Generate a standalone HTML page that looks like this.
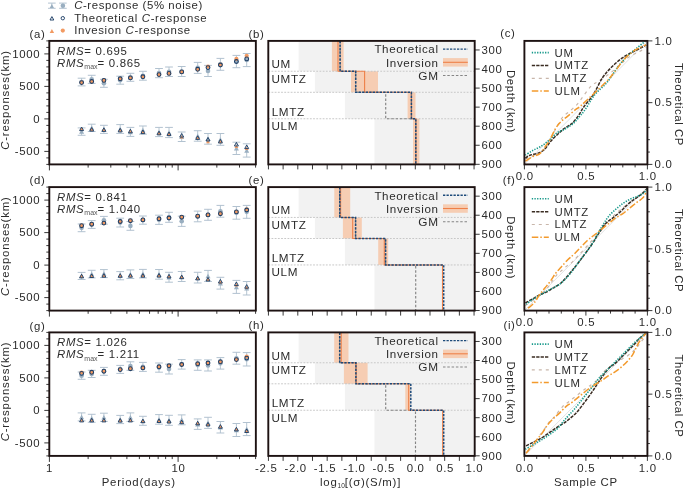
<!DOCTYPE html>
<html><head><meta charset="utf-8"><style>
html,body{margin:0;padding:0;background:#fff;overflow:hidden;width:685px;height:490px;}
svg{display:block;font-family:"Liberation Sans", sans-serif;will-change:transform;}
</style></head><body>
<svg width="685" height="490" viewBox="0 0 685 490">
<rect width="685" height="490" fill="#fff"/>
<line x1="46.3" y1="164.4" x2="49.3" y2="164.4" stroke="#3a3a3a" stroke-width="1" />
<line x1="46.3" y1="157.9" x2="49.3" y2="157.9" stroke="#3a3a3a" stroke-width="1" />
<line x1="44.3" y1="151.4" x2="49.3" y2="151.4" stroke="#3a3a3a" stroke-width="1" />
<line x1="46.3" y1="144.9" x2="49.3" y2="144.9" stroke="#3a3a3a" stroke-width="1" />
<line x1="46.3" y1="138.4" x2="49.3" y2="138.4" stroke="#3a3a3a" stroke-width="1" />
<line x1="46.3" y1="131.9" x2="49.3" y2="131.9" stroke="#3a3a3a" stroke-width="1" />
<line x1="46.3" y1="125.4" x2="49.3" y2="125.4" stroke="#3a3a3a" stroke-width="1" />
<line x1="44.3" y1="118.9" x2="49.3" y2="118.9" stroke="#3a3a3a" stroke-width="1" />
<line x1="46.3" y1="112.4" x2="49.3" y2="112.4" stroke="#3a3a3a" stroke-width="1" />
<line x1="46.3" y1="105.9" x2="49.3" y2="105.9" stroke="#3a3a3a" stroke-width="1" />
<line x1="46.3" y1="99.4" x2="49.3" y2="99.4" stroke="#3a3a3a" stroke-width="1" />
<line x1="46.3" y1="92.9" x2="49.3" y2="92.9" stroke="#3a3a3a" stroke-width="1" />
<line x1="44.3" y1="86.4" x2="49.3" y2="86.4" stroke="#3a3a3a" stroke-width="1" />
<line x1="46.3" y1="79.9" x2="49.3" y2="79.9" stroke="#3a3a3a" stroke-width="1" />
<line x1="46.3" y1="73.4" x2="49.3" y2="73.4" stroke="#3a3a3a" stroke-width="1" />
<line x1="46.3" y1="66.9" x2="49.3" y2="66.9" stroke="#3a3a3a" stroke-width="1" />
<line x1="46.3" y1="60.4" x2="49.3" y2="60.4" stroke="#3a3a3a" stroke-width="1" />
<line x1="44.3" y1="53.9" x2="49.3" y2="53.9" stroke="#3a3a3a" stroke-width="1" />
<line x1="46.3" y1="47.4" x2="49.3" y2="47.4" stroke="#3a3a3a" stroke-width="1" />
<line x1="46.3" y1="40.9" x2="49.3" y2="40.9" stroke="#3a3a3a" stroke-width="1" />
<text x="40.2" y="57.7" text-anchor="end" font-size="11.4" letter-spacing="0.68" fill="#2b2b2b" >1000</text>
<text x="40.2" y="90.2" text-anchor="end" font-size="11.4" letter-spacing="0.68" fill="#2b2b2b" >500</text>
<text x="40.2" y="122.7" text-anchor="end" font-size="11.4" letter-spacing="0.68" fill="#2b2b2b" >0</text>
<text x="40.2" y="155.2" text-anchor="end" font-size="11.4" letter-spacing="0.68" fill="#2b2b2b" >-500</text>
<line x1="49.4" y1="164.4" x2="49.4" y2="170.4" stroke="#3a3a3a" stroke-width="1" />
<line x1="88.14" y1="164.4" x2="88.14" y2="167.6" stroke="#3a3a3a" stroke-width="1" />
<line x1="110.81" y1="164.4" x2="110.81" y2="167.6" stroke="#3a3a3a" stroke-width="1" />
<line x1="126.89" y1="164.4" x2="126.89" y2="167.6" stroke="#3a3a3a" stroke-width="1" />
<line x1="139.36" y1="164.4" x2="139.36" y2="167.6" stroke="#3a3a3a" stroke-width="1" />
<line x1="149.55" y1="164.4" x2="149.55" y2="167.6" stroke="#3a3a3a" stroke-width="1" />
<line x1="158.16" y1="164.4" x2="158.16" y2="167.6" stroke="#3a3a3a" stroke-width="1" />
<line x1="165.63" y1="164.4" x2="165.63" y2="167.6" stroke="#3a3a3a" stroke-width="1" />
<line x1="172.21" y1="164.4" x2="172.21" y2="167.6" stroke="#3a3a3a" stroke-width="1" />
<line x1="178.1" y1="164.4" x2="178.1" y2="170.4" stroke="#3a3a3a" stroke-width="1" />
<line x1="216.84" y1="164.4" x2="216.84" y2="167.6" stroke="#3a3a3a" stroke-width="1" />
<line x1="239.51" y1="164.4" x2="239.51" y2="167.6" stroke="#3a3a3a" stroke-width="1" />
<line x1="255.59" y1="164.4" x2="255.59" y2="167.6" stroke="#3a3a3a" stroke-width="1" />
<line x1="81.6" y1="78.2" x2="81.6" y2="85.9" stroke="#aebfcd" stroke-width="0.9" />
<line x1="77.7" y1="78.2" x2="85.5" y2="78.2" stroke="#aebfcd" stroke-width="0.95" />
<line x1="77.7" y1="85.9" x2="85.5" y2="85.9" stroke="#aebfcd" stroke-width="0.95" />
<circle cx="81.6" cy="82.05" r="2.3" fill="#99aec0"/>
<line x1="81.6" y1="127.9" x2="81.6" y2="135.3" stroke="#aebfcd" stroke-width="0.9" />
<line x1="77.7" y1="127.9" x2="85.5" y2="127.9" stroke="#aebfcd" stroke-width="0.95" />
<line x1="77.7" y1="135.3" x2="85.5" y2="135.3" stroke="#aebfcd" stroke-width="0.95" />
<polygon points="79.1,133.85 84.1,133.85 81.6,129.35" fill="#99aec0"/>
<line x1="91.7" y1="75.3" x2="91.7" y2="83.4" stroke="#aebfcd" stroke-width="0.9" />
<line x1="87.8" y1="75.3" x2="95.6" y2="75.3" stroke="#aebfcd" stroke-width="0.95" />
<line x1="87.8" y1="83.4" x2="95.6" y2="83.4" stroke="#aebfcd" stroke-width="0.95" />
<circle cx="91.7" cy="79.35" r="2.3" fill="#99aec0"/>
<line x1="91.7" y1="124.2" x2="91.7" y2="131.5" stroke="#aebfcd" stroke-width="0.9" />
<line x1="87.8" y1="124.2" x2="95.6" y2="124.2" stroke="#aebfcd" stroke-width="0.95" />
<line x1="87.8" y1="131.5" x2="95.6" y2="131.5" stroke="#aebfcd" stroke-width="0.95" />
<polygon points="89.2,130.1 94.2,130.1 91.7,125.6" fill="#99aec0"/>
<line x1="103.9" y1="79.3" x2="103.9" y2="87.3" stroke="#aebfcd" stroke-width="0.9" />
<line x1="100" y1="79.3" x2="107.8" y2="79.3" stroke="#aebfcd" stroke-width="0.95" />
<line x1="100" y1="87.3" x2="107.8" y2="87.3" stroke="#aebfcd" stroke-width="0.95" />
<circle cx="103.9" cy="83.3" r="2.3" fill="#99aec0"/>
<line x1="103.9" y1="125.3" x2="103.9" y2="133.4" stroke="#aebfcd" stroke-width="0.9" />
<line x1="100" y1="125.3" x2="107.8" y2="125.3" stroke="#aebfcd" stroke-width="0.95" />
<line x1="100" y1="133.4" x2="107.8" y2="133.4" stroke="#aebfcd" stroke-width="0.95" />
<polygon points="101.4,131.6 106.4,131.6 103.9,127.1" fill="#99aec0"/>
<line x1="120.2" y1="76.2" x2="120.2" y2="84.2" stroke="#aebfcd" stroke-width="0.9" />
<line x1="116.3" y1="76.2" x2="124.1" y2="76.2" stroke="#aebfcd" stroke-width="0.95" />
<line x1="116.3" y1="84.2" x2="124.1" y2="84.2" stroke="#aebfcd" stroke-width="0.95" />
<circle cx="120.2" cy="80.2" r="2.3" fill="#99aec0"/>
<line x1="120.2" y1="124.6" x2="120.2" y2="133.4" stroke="#aebfcd" stroke-width="0.9" />
<line x1="116.3" y1="124.6" x2="124.1" y2="124.6" stroke="#aebfcd" stroke-width="0.95" />
<line x1="116.3" y1="133.4" x2="124.1" y2="133.4" stroke="#aebfcd" stroke-width="0.95" />
<polygon points="117.7,131.25 122.7,131.25 120.2,126.75" fill="#99aec0"/>
<line x1="130.4" y1="73.3" x2="130.4" y2="81.3" stroke="#aebfcd" stroke-width="0.9" />
<line x1="126.5" y1="73.3" x2="134.3" y2="73.3" stroke="#aebfcd" stroke-width="0.95" />
<line x1="126.5" y1="81.3" x2="134.3" y2="81.3" stroke="#aebfcd" stroke-width="0.95" />
<circle cx="130.4" cy="77.3" r="2.3" fill="#99aec0"/>
<line x1="130.4" y1="127.4" x2="130.4" y2="136.4" stroke="#aebfcd" stroke-width="0.9" />
<line x1="126.5" y1="127.4" x2="134.3" y2="127.4" stroke="#aebfcd" stroke-width="0.95" />
<line x1="126.5" y1="136.4" x2="134.3" y2="136.4" stroke="#aebfcd" stroke-width="0.95" />
<polygon points="127.9,134.15 132.9,134.15 130.4,129.65" fill="#99aec0"/>
<line x1="142.9" y1="71.3" x2="142.9" y2="80.2" stroke="#aebfcd" stroke-width="0.9" />
<line x1="139" y1="71.3" x2="146.8" y2="71.3" stroke="#aebfcd" stroke-width="0.95" />
<line x1="139" y1="80.2" x2="146.8" y2="80.2" stroke="#aebfcd" stroke-width="0.95" />
<circle cx="142.9" cy="75.75" r="2.3" fill="#99aec0"/>
<line x1="142.9" y1="126" x2="142.9" y2="134.2" stroke="#aebfcd" stroke-width="0.9" />
<line x1="139" y1="126" x2="146.8" y2="126" stroke="#aebfcd" stroke-width="0.95" />
<line x1="139" y1="134.2" x2="146.8" y2="134.2" stroke="#aebfcd" stroke-width="0.95" />
<polygon points="140.4,132.35 145.4,132.35 142.9,127.85" fill="#99aec0"/>
<line x1="159" y1="68.5" x2="159" y2="77.7" stroke="#aebfcd" stroke-width="0.9" />
<line x1="155.1" y1="68.5" x2="162.9" y2="68.5" stroke="#aebfcd" stroke-width="0.95" />
<line x1="155.1" y1="77.7" x2="162.9" y2="77.7" stroke="#aebfcd" stroke-width="0.95" />
<circle cx="159" cy="73.1" r="2.3" fill="#99aec0"/>
<line x1="159" y1="127.4" x2="159" y2="136.6" stroke="#aebfcd" stroke-width="0.9" />
<line x1="155.1" y1="127.4" x2="162.9" y2="127.4" stroke="#aebfcd" stroke-width="0.95" />
<line x1="155.1" y1="136.6" x2="162.9" y2="136.6" stroke="#aebfcd" stroke-width="0.95" />
<polygon points="156.5,134.25 161.5,134.25 159,129.75" fill="#99aec0"/>
<line x1="169" y1="67" x2="169" y2="76.5" stroke="#aebfcd" stroke-width="0.9" />
<line x1="165.1" y1="67" x2="172.9" y2="67" stroke="#aebfcd" stroke-width="0.95" />
<line x1="165.1" y1="76.5" x2="172.9" y2="76.5" stroke="#aebfcd" stroke-width="0.95" />
<circle cx="169" cy="71.75" r="2.3" fill="#99aec0"/>
<line x1="169" y1="127.4" x2="169" y2="137.6" stroke="#aebfcd" stroke-width="0.9" />
<line x1="165.1" y1="127.4" x2="172.9" y2="127.4" stroke="#aebfcd" stroke-width="0.95" />
<line x1="165.1" y1="137.6" x2="172.9" y2="137.6" stroke="#aebfcd" stroke-width="0.95" />
<polygon points="166.5,134.75 171.5,134.75 169,130.25" fill="#99aec0"/>
<line x1="181.7" y1="66.5" x2="181.7" y2="76.5" stroke="#aebfcd" stroke-width="0.9" />
<line x1="177.8" y1="66.5" x2="185.6" y2="66.5" stroke="#aebfcd" stroke-width="0.95" />
<line x1="177.8" y1="76.5" x2="185.6" y2="76.5" stroke="#aebfcd" stroke-width="0.95" />
<circle cx="181.7" cy="71.5" r="2.3" fill="#99aec0"/>
<line x1="181.7" y1="132" x2="181.7" y2="141.5" stroke="#aebfcd" stroke-width="0.9" />
<line x1="177.8" y1="132" x2="185.6" y2="132" stroke="#aebfcd" stroke-width="0.95" />
<line x1="177.8" y1="141.5" x2="185.6" y2="141.5" stroke="#aebfcd" stroke-width="0.95" />
<polygon points="179.2,139 184.2,139 181.7,134.5" fill="#99aec0"/>
<line x1="197.7" y1="62.4" x2="197.7" y2="73.4" stroke="#aebfcd" stroke-width="0.9" />
<line x1="193.8" y1="62.4" x2="201.6" y2="62.4" stroke="#aebfcd" stroke-width="0.95" />
<line x1="193.8" y1="73.4" x2="201.6" y2="73.4" stroke="#aebfcd" stroke-width="0.95" />
<circle cx="197.7" cy="67.9" r="2.3" fill="#99aec0"/>
<line x1="197.7" y1="130.7" x2="197.7" y2="141.2" stroke="#aebfcd" stroke-width="0.9" />
<line x1="193.8" y1="130.7" x2="201.6" y2="130.7" stroke="#aebfcd" stroke-width="0.95" />
<line x1="193.8" y1="141.2" x2="201.6" y2="141.2" stroke="#aebfcd" stroke-width="0.95" />
<polygon points="195.2,138.2 200.2,138.2 197.7,133.7" fill="#99aec0"/>
<line x1="208" y1="65.4" x2="208" y2="76.5" stroke="#aebfcd" stroke-width="0.9" />
<line x1="204.1" y1="65.4" x2="211.9" y2="65.4" stroke="#aebfcd" stroke-width="0.95" />
<line x1="204.1" y1="76.5" x2="211.9" y2="76.5" stroke="#aebfcd" stroke-width="0.95" />
<circle cx="208" cy="70.95" r="2.3" fill="#99aec0"/>
<line x1="208" y1="133.5" x2="208" y2="144.2" stroke="#aebfcd" stroke-width="0.9" />
<line x1="204.1" y1="133.5" x2="211.9" y2="133.5" stroke="#aebfcd" stroke-width="0.95" />
<line x1="204.1" y1="144.2" x2="211.9" y2="144.2" stroke="#aebfcd" stroke-width="0.95" />
<polygon points="205.5,141.1 210.5,141.1 208,136.6" fill="#99aec0"/>
<line x1="220.4" y1="58.4" x2="220.4" y2="70.3" stroke="#aebfcd" stroke-width="0.9" />
<line x1="216.5" y1="58.4" x2="224.3" y2="58.4" stroke="#aebfcd" stroke-width="0.95" />
<line x1="216.5" y1="70.3" x2="224.3" y2="70.3" stroke="#aebfcd" stroke-width="0.95" />
<circle cx="220.4" cy="64.35" r="2.3" fill="#99aec0"/>
<line x1="220.4" y1="133.5" x2="220.4" y2="145.3" stroke="#aebfcd" stroke-width="0.9" />
<line x1="216.5" y1="133.5" x2="224.3" y2="133.5" stroke="#aebfcd" stroke-width="0.95" />
<line x1="216.5" y1="145.3" x2="224.3" y2="145.3" stroke="#aebfcd" stroke-width="0.95" />
<polygon points="217.9,141.65 222.9,141.65 220.4,137.15" fill="#99aec0"/>
<line x1="236.4" y1="55.4" x2="236.4" y2="67.7" stroke="#aebfcd" stroke-width="0.9" />
<line x1="232.5" y1="55.4" x2="240.3" y2="55.4" stroke="#aebfcd" stroke-width="0.95" />
<line x1="232.5" y1="67.7" x2="240.3" y2="67.7" stroke="#aebfcd" stroke-width="0.95" />
<circle cx="236.4" cy="61.55" r="2.3" fill="#99aec0"/>
<line x1="236.4" y1="142.2" x2="236.4" y2="154.5" stroke="#aebfcd" stroke-width="0.9" />
<line x1="232.5" y1="142.2" x2="240.3" y2="142.2" stroke="#aebfcd" stroke-width="0.95" />
<line x1="232.5" y1="154.5" x2="240.3" y2="154.5" stroke="#aebfcd" stroke-width="0.95" />
<polygon points="233.9,150.6 238.9,150.6 236.4,146.1" fill="#99aec0"/>
<line x1="246.7" y1="53.5" x2="246.7" y2="66.6" stroke="#aebfcd" stroke-width="0.9" />
<line x1="242.8" y1="53.5" x2="250.6" y2="53.5" stroke="#aebfcd" stroke-width="0.95" />
<line x1="242.8" y1="66.6" x2="250.6" y2="66.6" stroke="#aebfcd" stroke-width="0.95" />
<circle cx="246.7" cy="60.05" r="2.3" fill="#99aec0"/>
<line x1="246.7" y1="143.8" x2="246.7" y2="157.1" stroke="#aebfcd" stroke-width="0.9" />
<line x1="242.8" y1="143.8" x2="250.6" y2="143.8" stroke="#aebfcd" stroke-width="0.95" />
<line x1="242.8" y1="157.1" x2="250.6" y2="157.1" stroke="#aebfcd" stroke-width="0.95" />
<polygon points="244.2,152.7 249.2,152.7 246.7,148.2" fill="#99aec0"/>
<circle cx="81.6" cy="82.6" r="2.1" fill="#f29a62"/>
<circle cx="81.6" cy="82.6" r="1.9" fill="none" stroke="#1f3f66" stroke-width="1.1"/>
<polygon points="79.7,130.51 83.5,130.51 81.6,127.09" fill="#f29a62"/>
<polygon points="79.6,130.6 83.6,130.6 81.6,127" fill="none" stroke="#1f3f66" stroke-width="0.95" stroke-linejoin="round"/>
<circle cx="91.7" cy="81.5" r="2.1" fill="#f29a62"/>
<circle cx="91.7" cy="81.5" r="1.9" fill="none" stroke="#1f3f66" stroke-width="1.1"/>
<polygon points="89.8,131.01 93.6,131.01 91.7,127.59" fill="#f29a62"/>
<polygon points="89.7,131.1 93.7,131.1 91.7,127.5" fill="none" stroke="#1f3f66" stroke-width="0.95" stroke-linejoin="round"/>
<circle cx="103.9" cy="80.4" r="2.1" fill="#f29a62"/>
<circle cx="103.9" cy="80.4" r="1.9" fill="none" stroke="#1f3f66" stroke-width="1.1"/>
<polygon points="102,131.31 105.8,131.31 103.9,127.89" fill="#f29a62"/>
<polygon points="101.9,131.4 105.9,131.4 103.9,127.8" fill="none" stroke="#1f3f66" stroke-width="0.95" stroke-linejoin="round"/>
<circle cx="120.2" cy="78.8" r="2.1" fill="#f29a62"/>
<circle cx="120.2" cy="78.8" r="1.9" fill="none" stroke="#1f3f66" stroke-width="1.1"/>
<polygon points="118.3,131.81 122.1,131.81 120.2,128.39" fill="#f29a62"/>
<polygon points="118.2,131.9 122.2,131.9 120.2,128.3" fill="none" stroke="#1f3f66" stroke-width="0.95" stroke-linejoin="round"/>
<circle cx="130.4" cy="77.9" r="2.1" fill="#f29a62"/>
<circle cx="130.4" cy="77.9" r="1.9" fill="none" stroke="#1f3f66" stroke-width="1.1"/>
<polygon points="128.5,132.71 132.3,132.71 130.4,129.29" fill="#f29a62"/>
<polygon points="128.4,132.8 132.4,132.8 130.4,129.2" fill="none" stroke="#1f3f66" stroke-width="0.95" stroke-linejoin="round"/>
<circle cx="142.9" cy="76.8" r="2.1" fill="#f29a62"/>
<circle cx="142.9" cy="76.8" r="1.9" fill="none" stroke="#1f3f66" stroke-width="1.1"/>
<polygon points="141,133.51 144.8,133.51 142.9,130.09" fill="#f29a62"/>
<polygon points="140.9,133.6 144.9,133.6 142.9,130" fill="none" stroke="#1f3f66" stroke-width="0.95" stroke-linejoin="round"/>
<circle cx="159" cy="74.6" r="2.1" fill="#f29a62"/>
<circle cx="159" cy="74.6" r="1.9" fill="none" stroke="#1f3f66" stroke-width="1.1"/>
<polygon points="157.1,134.71 160.9,134.71 159,131.29" fill="#f29a62"/>
<polygon points="157,134.8 161,134.8 159,131.2" fill="none" stroke="#1f3f66" stroke-width="0.95" stroke-linejoin="round"/>
<circle cx="169" cy="73.4" r="2.1" fill="#f29a62"/>
<circle cx="169" cy="73.4" r="1.9" fill="none" stroke="#1f3f66" stroke-width="1.1"/>
<polygon points="167.1,135.51 170.9,135.51 169,132.09" fill="#f29a62"/>
<polygon points="167,135.6 171,135.6 169,132" fill="none" stroke="#1f3f66" stroke-width="0.95" stroke-linejoin="round"/>
<circle cx="181.7" cy="71.9" r="2.1" fill="#f29a62"/>
<circle cx="181.7" cy="71.9" r="1.9" fill="none" stroke="#1f3f66" stroke-width="1.1"/>
<polygon points="179.8,138.61 183.6,138.61 181.7,135.19" fill="#f29a62"/>
<polygon points="179.7,137.1 183.7,137.1 181.7,133.5" fill="none" stroke="#1f3f66" stroke-width="0.95" stroke-linejoin="round"/>
<circle cx="197.7" cy="69.3" r="2.1" fill="#f29a62"/>
<circle cx="197.7" cy="69.3" r="1.9" fill="none" stroke="#1f3f66" stroke-width="1.1"/>
<polygon points="195.8,139.31 199.6,139.31 197.7,135.89" fill="#f29a62"/>
<polygon points="195.7,139.4 199.7,139.4 197.7,135.8" fill="none" stroke="#1f3f66" stroke-width="0.95" stroke-linejoin="round"/>
<circle cx="208" cy="66.6" r="2.1" fill="#f29a62"/>
<circle cx="208" cy="67.6" r="1.9" fill="none" stroke="#1f3f66" stroke-width="1.1"/>
<polygon points="206.1,143.21 209.9,143.21 208,139.79" fill="#f29a62"/>
<polygon points="206,141 210,141 208,137.4" fill="none" stroke="#1f3f66" stroke-width="0.95" stroke-linejoin="round"/>
<circle cx="220.4" cy="64.5" r="2.1" fill="#f29a62"/>
<circle cx="220.4" cy="65" r="1.9" fill="none" stroke="#1f3f66" stroke-width="1.1"/>
<polygon points="218.5,142.91 222.3,142.91 220.4,139.49" fill="#f29a62"/>
<polygon points="218.4,143 222.4,143 220.4,139.4" fill="none" stroke="#1f3f66" stroke-width="0.95" stroke-linejoin="round"/>
<circle cx="236.4" cy="58.9" r="2.1" fill="#f29a62"/>
<circle cx="236.4" cy="61.5" r="1.9" fill="none" stroke="#1f3f66" stroke-width="1.1"/>
<polygon points="234.5,148.11 238.3,148.11 236.4,144.69" fill="#f29a62"/>
<polygon points="234.4,146 238.4,146 236.4,142.4" fill="none" stroke="#1f3f66" stroke-width="0.95" stroke-linejoin="round"/>
<circle cx="246.7" cy="55.8" r="2.1" fill="#f29a62"/>
<circle cx="246.7" cy="58.9" r="1.9" fill="none" stroke="#1f3f66" stroke-width="1.1"/>
<polygon points="244.8,150.11 248.6,150.11 246.7,146.69" fill="#f29a62"/>
<polygon points="244.7,148.6 248.7,148.6 246.7,145" fill="none" stroke="#1f3f66" stroke-width="0.95" stroke-linejoin="round"/>
<text x="57" y="54.6" font-size="11.4" letter-spacing="0.68" fill="#2b2b2b"><tspan font-style="italic">RMS</tspan>= 0.695</text>
<text x="57" y="66.5" font-size="11.4" letter-spacing="0.68" fill="#2b2b2b"><tspan font-style="italic">RMS</tspan><tspan font-size="7" letter-spacing="0" dy="2.6" fill="#555">max</tspan><tspan dy="-2.6">= 0.865</tspan></text>
<rect x="49.3" y="40.9" width="206.55" height="123.5" fill="none" stroke="#1d1212" stroke-width="1.9"/>
<text transform="translate(9.4,100) rotate(-90)" text-anchor="middle" font-size="11.4" letter-spacing="0.82" fill="#2b2b2b"><tspan font-style="italic">C</tspan>-responses(km)</text>
<rect x="298.6" y="40.9" width="176.1" height="30.35" fill="#f2f2f2" />
<rect x="314.9" y="71.25" width="159.8" height="21.05" fill="#f2f2f2" />
<rect x="344.9" y="92.3" width="129.8" height="26.45" fill="#f2f2f2" />
<rect x="374.5" y="118.75" width="100.2" height="45.65" fill="#f2f2f2" />
<rect x="331.9" y="40.9" width="11.7" height="30.35" fill="#f6cdb3" />
<rect x="351" y="71.25" width="27" height="21.05" fill="#f6cdb3" />
<rect x="407.6" y="92.3" width="7.9" height="26.45" fill="#f6cdb3" />
<rect x="413" y="118.75" width="6.4" height="45.65" fill="#f6cdb3" />
<line x1="268.3" y1="71.25" x2="474.7" y2="71.25" stroke="#c2c2c2" stroke-width="0.9" stroke-dasharray="1.8 1.4"/>
<line x1="268.3" y1="92.3" x2="474.7" y2="92.3" stroke="#c2c2c2" stroke-width="0.9" stroke-dasharray="1.8 1.4"/>
<line x1="268.3" y1="118.75" x2="474.7" y2="118.75" stroke="#c2c2c2" stroke-width="0.9" stroke-dasharray="1.8 1.4"/>
<path d="M340.1,40.9 L340.1,71.25 L355.7,71.25 L355.7,92.3 L385.7,92.3 L385.7,118.75 L415.8,118.75 L415.8,164.32" fill="none" stroke="#858585" stroke-width="1.15" stroke-dasharray="2.5 1.8"/>
<path d="M338,40.9 L338,71.25 L364.6,71.25 L364.6,92.3 L411.4,92.3 L411.4,118.75 L415.9,118.75 L415.9,164.32" fill="none" stroke="#ee8048" stroke-width="1.1"/>
<path d="M340.1,40.9 L340.1,71.25 L355.7,71.25 L355.7,92.3 L411.4,92.3 L411.4,118.75 L415.8,118.75 L415.8,164.32" fill="none" stroke="#1c4a7a" stroke-width="1.5" stroke-dasharray="2.3 1.2"/>
<text x="271.5" y="68" text-anchor="start" font-size="11.7" letter-spacing="0.68" fill="#2b2b2b" >UM</text>
<text x="271.5" y="82.8" text-anchor="start" font-size="11.7" letter-spacing="0.68" fill="#2b2b2b" >UMTZ</text>
<text x="271.7" y="115.7" text-anchor="start" font-size="11.7" letter-spacing="0.68" fill="#2b2b2b" >LMTZ</text>
<text x="271.5" y="130" text-anchor="start" font-size="11.7" letter-spacing="0.68" fill="#2b2b2b" >ULM</text>
<text x="438.6" y="53.4" text-anchor="end" font-size="11.6" letter-spacing="0.62" fill="#2b2b2b" >Theoretical</text>
<text x="438.6" y="66.6" text-anchor="end" font-size="11.6" letter-spacing="0.62" fill="#2b2b2b" >Inversion</text>
<text x="438.6" y="79.8" text-anchor="end" font-size="11.8" letter-spacing="0.62" fill="#2b2b2b" >GM</text>
<line x1="443" y1="49.1" x2="467.8" y2="49.1" stroke="#1c4a7a" stroke-width="1.4" stroke-dasharray="2.3 1.2"/>
<rect x="443" y="58.1" width="24.8" height="8.5" fill="#f6cdb3" />
<line x1="443" y1="62.3" x2="467.8" y2="62.3" stroke="#ee8048" stroke-width="1.1" />
<line x1="443" y1="75.5" x2="467.8" y2="75.5" stroke="#858585" stroke-width="1.1" stroke-dasharray="2.5 1.8"/>
<line x1="268.43" y1="164.4" x2="268.43" y2="169.4" stroke="#3a3a3a" stroke-width="1" />
<line x1="283.11" y1="164.4" x2="283.11" y2="169.4" stroke="#3a3a3a" stroke-width="1" />
<line x1="297.8" y1="164.4" x2="297.8" y2="169.4" stroke="#3a3a3a" stroke-width="1" />
<line x1="312.49" y1="164.4" x2="312.49" y2="169.4" stroke="#3a3a3a" stroke-width="1" />
<line x1="327.18" y1="164.4" x2="327.18" y2="169.4" stroke="#3a3a3a" stroke-width="1" />
<line x1="341.86" y1="164.4" x2="341.86" y2="169.4" stroke="#3a3a3a" stroke-width="1" />
<line x1="356.55" y1="164.4" x2="356.55" y2="169.4" stroke="#3a3a3a" stroke-width="1" />
<line x1="371.24" y1="164.4" x2="371.24" y2="169.4" stroke="#3a3a3a" stroke-width="1" />
<line x1="385.93" y1="164.4" x2="385.93" y2="169.4" stroke="#3a3a3a" stroke-width="1" />
<line x1="400.61" y1="164.4" x2="400.61" y2="169.4" stroke="#3a3a3a" stroke-width="1" />
<line x1="415.3" y1="164.4" x2="415.3" y2="169.4" stroke="#3a3a3a" stroke-width="1" />
<line x1="429.99" y1="164.4" x2="429.99" y2="169.4" stroke="#3a3a3a" stroke-width="1" />
<line x1="444.68" y1="164.4" x2="444.68" y2="169.4" stroke="#3a3a3a" stroke-width="1" />
<line x1="459.36" y1="164.4" x2="459.36" y2="169.4" stroke="#3a3a3a" stroke-width="1" />
<line x1="474.05" y1="164.4" x2="474.05" y2="169.4" stroke="#3a3a3a" stroke-width="1" />
<line x1="474.7" y1="49.96" x2="479.7" y2="49.96" stroke="#3a3a3a" stroke-width="1" />
<text x="481.6" y="53.76" text-anchor="start" font-size="11.4" letter-spacing="0.68" fill="#2b2b2b" >300</text>
<line x1="474.7" y1="69.02" x2="479.7" y2="69.02" stroke="#3a3a3a" stroke-width="1" />
<text x="481.6" y="72.82" text-anchor="start" font-size="11.4" letter-spacing="0.68" fill="#2b2b2b" >400</text>
<line x1="474.7" y1="88.08" x2="479.7" y2="88.08" stroke="#3a3a3a" stroke-width="1" />
<text x="481.6" y="91.88" text-anchor="start" font-size="11.4" letter-spacing="0.68" fill="#2b2b2b" >500</text>
<line x1="474.7" y1="107.14" x2="479.7" y2="107.14" stroke="#3a3a3a" stroke-width="1" />
<text x="481.6" y="110.94" text-anchor="start" font-size="11.4" letter-spacing="0.68" fill="#2b2b2b" >700</text>
<line x1="474.7" y1="126.2" x2="479.7" y2="126.2" stroke="#3a3a3a" stroke-width="1" />
<text x="481.6" y="130" text-anchor="start" font-size="11.4" letter-spacing="0.68" fill="#2b2b2b" >800</text>
<line x1="474.7" y1="145.26" x2="479.7" y2="145.26" stroke="#3a3a3a" stroke-width="1" />
<text x="481.6" y="149.06" text-anchor="start" font-size="11.4" letter-spacing="0.68" fill="#2b2b2b" >600</text>
<line x1="474.7" y1="164.32" x2="479.7" y2="164.32" stroke="#3a3a3a" stroke-width="1" />
<text x="481.6" y="168.12" text-anchor="start" font-size="11.4" letter-spacing="0.68" fill="#2b2b2b" >900</text>
<rect x="268.3" y="40.9" width="206.4" height="123.5" fill="none" stroke="#1d1212" stroke-width="1.9"/>
<text transform="translate(507.2,101.5) rotate(90)" text-anchor="middle" font-size="11.4" letter-spacing="0.68" fill="#2b2b2b">Depth (km)</text>
<clipPath id="clip0"><rect x="524.4" y="40.9" width="123" height="123.5"/></clipPath>
<g clip-path="url(#clip0)">
<line x1="524.4" y1="164.4" x2="647.4" y2="40.9" stroke="#e2e2e2" stroke-width="1" />
<path d="M525.36,159.22 C526.6,158.66 530.41,156.75 532.77,155.85 C535.12,154.96 537.48,155.07 539.5,153.84 C541.52,152.6 543.09,150.7 544.88,148.45 C546.67,146.21 548.47,143.63 550.26,140.38 C552.06,137.12 553.63,132.75 555.65,128.94 C557.67,125.12 560.36,120.19 562.38,117.5 C564.4,114.8 565.97,114.36 567.76,112.79 C569.55,111.22 571.35,109.76 573.14,108.08 C574.94,106.39 575.67,106.22 578.53,102.69 C581.39,99.17 587.06,90.45 590.29,86.93 C593.53,83.41 594.62,83.87 597.94,81.58 C601.25,79.28 606.35,76.1 610.17,73.17 C613.99,70.24 617.56,66.8 620.87,63.99 C624.18,61.19 626.99,58.39 630.05,56.35 C633.1,54.31 636.54,53.29 639.22,51.76 C641.9,50.23 644.95,47.94 646.1,47.17" fill="none" stroke="#c8b6aa" stroke-width="1.2" stroke-dasharray="3 4"/>
<path d="M525.36,158.14 C526.15,157.65 527.94,156.01 530.08,155.18 C532.21,154.35 535.68,154.17 538.15,153.16 C540.62,152.15 542.86,151.03 544.88,149.13 C546.9,147.22 548.24,144.08 550.26,141.72 C552.28,139.37 554.75,137.12 556.99,134.99 C559.24,132.86 561.26,130.84 563.72,128.94 C566.19,127.03 569.33,125.8 571.8,123.55 C574.27,121.31 576.51,118.28 578.53,115.48 C580.55,112.67 581.44,110.21 583.91,106.73 C586.38,103.25 590.25,99.4 593.35,94.57 C596.45,89.75 599.46,82.34 602.52,77.76 C605.58,73.17 608.38,70.36 611.7,67.05 C615.01,63.74 618.83,60.43 622.4,57.88 C625.97,55.33 629.79,53.55 633.1,51.76 C636.42,49.98 640.11,48.32 642.28,47.17 C644.44,46.03 645.46,45.26 646.1,44.88" fill="none" stroke="#3a2c22" stroke-width="1.5" stroke-dasharray="3.3 1.1"/>
<path d="M525.36,155.18 C526.6,154.4 530.19,151.93 532.77,150.47 C535.35,149.01 538.15,148.12 540.84,146.43 C543.53,144.75 546.23,142.62 548.92,140.38 C551.61,138.13 554.3,134.88 556.99,132.97 C559.69,131.07 562.38,130.51 565.07,128.94 C567.76,127.37 570.68,125.68 573.14,123.55 C575.61,121.42 577.85,118.51 579.87,116.15 C581.89,113.8 582.76,113.02 585.26,109.42 C587.76,105.83 591.24,99.09 594.88,94.57 C598.52,90.06 603.29,86.93 607.11,82.34 C610.93,77.76 614.5,71.38 617.81,67.05 C621.13,62.72 623.93,59.41 626.99,56.35 C630.05,53.29 633.1,51.25 636.16,48.7 C639.22,46.15 643.81,42.33 645.34,41.06" fill="none" stroke="#17998a" stroke-width="1.6" stroke-dasharray="1.3 1.35"/>
<path d="M525.36,161.24 C526.6,160.45 530.41,157.76 532.77,156.53 C535.12,155.29 537.48,155.41 539.5,153.84 C541.52,152.27 543.09,149.57 544.88,147.11 C546.67,144.64 548.47,142.17 550.26,139.03 C552.06,135.89 553.85,131.18 555.65,128.26 C557.44,125.35 559.01,123.55 561.03,121.53 C563.05,119.52 565.29,118.17 567.76,116.15 C570.23,114.13 573.59,111.22 575.84,109.42 C578.08,107.63 576.26,109.9 581.22,105.38 C586.18,100.87 599.99,87.97 605.58,82.34 C611.17,76.72 611.44,75.72 614.76,71.64 C618.07,67.56 621.89,61.57 625.46,57.88 C629.03,54.18 632.72,51.63 636.16,49.47 C639.6,47.3 644.44,45.65 646.1,44.88" fill="none" stroke="#f39a2c" stroke-width="1.5" stroke-dasharray="6.5 2 1.5 2"/>
</g>
<line x1="531.8" y1="52.6" x2="548.8" y2="52.6" stroke="#17998a" stroke-width="1.6" stroke-dasharray="1.3 1.35"/>
<text x="554.6" y="56.5" text-anchor="start" font-size="11.4" letter-spacing="0.68" fill="#2b2b2b" >UM</text>
<line x1="531.8" y1="65.5" x2="548.8" y2="65.5" stroke="#3a2c22" stroke-width="1.5" stroke-dasharray="3.3 1.1"/>
<text x="554.6" y="69.4" text-anchor="start" font-size="11.4" letter-spacing="0.68" fill="#2b2b2b" >UMTZ</text>
<line x1="531.8" y1="78.3" x2="548.8" y2="78.3" stroke="#c8b6aa" stroke-width="1.2" stroke-dasharray="3 4"/>
<text x="554.6" y="82.2" text-anchor="start" font-size="11.4" letter-spacing="0.68" fill="#2b2b2b" >LMTZ</text>
<line x1="531.8" y1="91.1" x2="548.8" y2="91.1" stroke="#f39a2c" stroke-width="1.5" stroke-dasharray="6.5 2 1.5 2"/>
<text x="554.6" y="95" text-anchor="start" font-size="11.4" letter-spacing="0.68" fill="#2b2b2b" >ULM</text>
<line x1="524.4" y1="164.4" x2="524.4" y2="169.4" stroke="#3a3a3a" stroke-width="1" />
<line x1="536.7" y1="164.4" x2="536.7" y2="167.4" stroke="#3a3a3a" stroke-width="1" />
<line x1="549" y1="164.4" x2="549" y2="167.4" stroke="#3a3a3a" stroke-width="1" />
<line x1="561.3" y1="164.4" x2="561.3" y2="167.4" stroke="#3a3a3a" stroke-width="1" />
<line x1="573.6" y1="164.4" x2="573.6" y2="167.4" stroke="#3a3a3a" stroke-width="1" />
<line x1="585.9" y1="164.4" x2="585.9" y2="169.4" stroke="#3a3a3a" stroke-width="1" />
<line x1="598.2" y1="164.4" x2="598.2" y2="167.4" stroke="#3a3a3a" stroke-width="1" />
<line x1="610.5" y1="164.4" x2="610.5" y2="167.4" stroke="#3a3a3a" stroke-width="1" />
<line x1="622.8" y1="164.4" x2="622.8" y2="167.4" stroke="#3a3a3a" stroke-width="1" />
<line x1="635.1" y1="164.4" x2="635.1" y2="167.4" stroke="#3a3a3a" stroke-width="1" />
<line x1="647.4" y1="164.4" x2="647.4" y2="169.4" stroke="#3a3a3a" stroke-width="1" />
<line x1="647.4" y1="164.4" x2="652.4" y2="164.4" stroke="#3a3a3a" stroke-width="1" />
<line x1="647.4" y1="152.05" x2="649.9" y2="152.05" stroke="#3a3a3a" stroke-width="1" />
<line x1="647.4" y1="139.7" x2="649.9" y2="139.7" stroke="#3a3a3a" stroke-width="1" />
<line x1="647.4" y1="127.35" x2="649.9" y2="127.35" stroke="#3a3a3a" stroke-width="1" />
<line x1="647.4" y1="115" x2="649.9" y2="115" stroke="#3a3a3a" stroke-width="1" />
<line x1="647.4" y1="102.65" x2="652.4" y2="102.65" stroke="#3a3a3a" stroke-width="1" />
<line x1="647.4" y1="90.3" x2="649.9" y2="90.3" stroke="#3a3a3a" stroke-width="1" />
<line x1="647.4" y1="77.95" x2="649.9" y2="77.95" stroke="#3a3a3a" stroke-width="1" />
<line x1="647.4" y1="65.6" x2="649.9" y2="65.6" stroke="#3a3a3a" stroke-width="1" />
<line x1="647.4" y1="53.25" x2="649.9" y2="53.25" stroke="#3a3a3a" stroke-width="1" />
<line x1="647.4" y1="40.9" x2="652.4" y2="40.9" stroke="#3a3a3a" stroke-width="1" />
<text x="654.6" y="44.7" text-anchor="start" font-size="11.4" letter-spacing="0.68" fill="#2b2b2b" >1.0</text>
<text x="654.6" y="106.45" text-anchor="start" font-size="11.4" letter-spacing="0.68" fill="#2b2b2b" >0.5</text>
<text x="654.6" y="168.2" text-anchor="start" font-size="11.4" letter-spacing="0.68" fill="#2b2b2b" >0.0</text>
<text x="524.8" y="180.1" text-anchor="middle" font-size="11.4" letter-spacing="0.68" fill="#2b2b2b" >0.0</text>
<text x="586.3" y="180.1" text-anchor="middle" font-size="11.4" letter-spacing="0.68" fill="#2b2b2b" >0.5</text>
<text x="647.8" y="180.1" text-anchor="middle" font-size="11.4" letter-spacing="0.68" fill="#2b2b2b" >1.0</text>
<rect x="524.4" y="40.9" width="123" height="123.5" fill="none" stroke="#1d1212" stroke-width="1.9"/>
<text transform="translate(675.2,104.4) rotate(90)" text-anchor="middle" font-size="11.4" letter-spacing="0.55" fill="#2b2b2b">Theoretical CP</text>
<line x1="46.3" y1="310.6" x2="49.3" y2="310.6" stroke="#3a3a3a" stroke-width="1" />
<line x1="46.3" y1="304.1" x2="49.3" y2="304.1" stroke="#3a3a3a" stroke-width="1" />
<line x1="44.3" y1="297.6" x2="49.3" y2="297.6" stroke="#3a3a3a" stroke-width="1" />
<line x1="46.3" y1="291.1" x2="49.3" y2="291.1" stroke="#3a3a3a" stroke-width="1" />
<line x1="46.3" y1="284.6" x2="49.3" y2="284.6" stroke="#3a3a3a" stroke-width="1" />
<line x1="46.3" y1="278.1" x2="49.3" y2="278.1" stroke="#3a3a3a" stroke-width="1" />
<line x1="46.3" y1="271.6" x2="49.3" y2="271.6" stroke="#3a3a3a" stroke-width="1" />
<line x1="44.3" y1="265.1" x2="49.3" y2="265.1" stroke="#3a3a3a" stroke-width="1" />
<line x1="46.3" y1="258.6" x2="49.3" y2="258.6" stroke="#3a3a3a" stroke-width="1" />
<line x1="46.3" y1="252.1" x2="49.3" y2="252.1" stroke="#3a3a3a" stroke-width="1" />
<line x1="46.3" y1="245.6" x2="49.3" y2="245.6" stroke="#3a3a3a" stroke-width="1" />
<line x1="46.3" y1="239.1" x2="49.3" y2="239.1" stroke="#3a3a3a" stroke-width="1" />
<line x1="44.3" y1="232.6" x2="49.3" y2="232.6" stroke="#3a3a3a" stroke-width="1" />
<line x1="46.3" y1="226.1" x2="49.3" y2="226.1" stroke="#3a3a3a" stroke-width="1" />
<line x1="46.3" y1="219.6" x2="49.3" y2="219.6" stroke="#3a3a3a" stroke-width="1" />
<line x1="46.3" y1="213.1" x2="49.3" y2="213.1" stroke="#3a3a3a" stroke-width="1" />
<line x1="46.3" y1="206.6" x2="49.3" y2="206.6" stroke="#3a3a3a" stroke-width="1" />
<line x1="44.3" y1="200.1" x2="49.3" y2="200.1" stroke="#3a3a3a" stroke-width="1" />
<line x1="46.3" y1="193.6" x2="49.3" y2="193.6" stroke="#3a3a3a" stroke-width="1" />
<line x1="46.3" y1="187.1" x2="49.3" y2="187.1" stroke="#3a3a3a" stroke-width="1" />
<text x="40.2" y="203.9" text-anchor="end" font-size="11.4" letter-spacing="0.68" fill="#2b2b2b" >1000</text>
<text x="40.2" y="236.4" text-anchor="end" font-size="11.4" letter-spacing="0.68" fill="#2b2b2b" >500</text>
<text x="40.2" y="268.9" text-anchor="end" font-size="11.4" letter-spacing="0.68" fill="#2b2b2b" >0</text>
<text x="40.2" y="301.4" text-anchor="end" font-size="11.4" letter-spacing="0.68" fill="#2b2b2b" >-500</text>
<line x1="49.4" y1="310.6" x2="49.4" y2="316.6" stroke="#3a3a3a" stroke-width="1" />
<line x1="88.14" y1="310.6" x2="88.14" y2="313.8" stroke="#3a3a3a" stroke-width="1" />
<line x1="110.81" y1="310.6" x2="110.81" y2="313.8" stroke="#3a3a3a" stroke-width="1" />
<line x1="126.89" y1="310.6" x2="126.89" y2="313.8" stroke="#3a3a3a" stroke-width="1" />
<line x1="139.36" y1="310.6" x2="139.36" y2="313.8" stroke="#3a3a3a" stroke-width="1" />
<line x1="149.55" y1="310.6" x2="149.55" y2="313.8" stroke="#3a3a3a" stroke-width="1" />
<line x1="158.16" y1="310.6" x2="158.16" y2="313.8" stroke="#3a3a3a" stroke-width="1" />
<line x1="165.63" y1="310.6" x2="165.63" y2="313.8" stroke="#3a3a3a" stroke-width="1" />
<line x1="172.21" y1="310.6" x2="172.21" y2="313.8" stroke="#3a3a3a" stroke-width="1" />
<line x1="178.1" y1="310.6" x2="178.1" y2="316.6" stroke="#3a3a3a" stroke-width="1" />
<line x1="216.84" y1="310.6" x2="216.84" y2="313.8" stroke="#3a3a3a" stroke-width="1" />
<line x1="239.51" y1="310.6" x2="239.51" y2="313.8" stroke="#3a3a3a" stroke-width="1" />
<line x1="255.59" y1="310.6" x2="255.59" y2="313.8" stroke="#3a3a3a" stroke-width="1" />
<line x1="81.6" y1="224" x2="81.6" y2="231.7" stroke="#aebfcd" stroke-width="0.9" />
<line x1="77.7" y1="224" x2="85.5" y2="224" stroke="#aebfcd" stroke-width="0.95" />
<line x1="77.7" y1="231.7" x2="85.5" y2="231.7" stroke="#aebfcd" stroke-width="0.95" />
<circle cx="81.6" cy="227.85" r="2.3" fill="#99aec0"/>
<line x1="81.6" y1="272.4" x2="81.6" y2="279.5" stroke="#aebfcd" stroke-width="0.9" />
<line x1="77.7" y1="272.4" x2="85.5" y2="272.4" stroke="#aebfcd" stroke-width="0.95" />
<line x1="77.7" y1="279.5" x2="85.5" y2="279.5" stroke="#aebfcd" stroke-width="0.95" />
<polygon points="79.1,278.2 84.1,278.2 81.6,273.7" fill="#99aec0"/>
<line x1="91.7" y1="220.6" x2="91.7" y2="228.4" stroke="#aebfcd" stroke-width="0.9" />
<line x1="87.8" y1="220.6" x2="95.6" y2="220.6" stroke="#aebfcd" stroke-width="0.95" />
<line x1="87.8" y1="228.4" x2="95.6" y2="228.4" stroke="#aebfcd" stroke-width="0.95" />
<circle cx="91.7" cy="224.5" r="2.3" fill="#99aec0"/>
<line x1="91.7" y1="270.3" x2="91.7" y2="277.9" stroke="#aebfcd" stroke-width="0.9" />
<line x1="87.8" y1="270.3" x2="95.6" y2="270.3" stroke="#aebfcd" stroke-width="0.95" />
<line x1="87.8" y1="277.9" x2="95.6" y2="277.9" stroke="#aebfcd" stroke-width="0.95" />
<polygon points="89.2,276.35 94.2,276.35 91.7,271.85" fill="#99aec0"/>
<line x1="103.9" y1="216.4" x2="103.9" y2="224.2" stroke="#aebfcd" stroke-width="0.9" />
<line x1="100" y1="216.4" x2="107.8" y2="216.4" stroke="#aebfcd" stroke-width="0.95" />
<line x1="100" y1="224.2" x2="107.8" y2="224.2" stroke="#aebfcd" stroke-width="0.95" />
<circle cx="103.9" cy="220.3" r="2.3" fill="#99aec0"/>
<line x1="103.9" y1="269.6" x2="103.9" y2="277.6" stroke="#aebfcd" stroke-width="0.9" />
<line x1="100" y1="269.6" x2="107.8" y2="269.6" stroke="#aebfcd" stroke-width="0.95" />
<line x1="100" y1="277.6" x2="107.8" y2="277.6" stroke="#aebfcd" stroke-width="0.95" />
<polygon points="101.4,275.85 106.4,275.85 103.9,271.35" fill="#99aec0"/>
<line x1="120.2" y1="218.2" x2="120.2" y2="227" stroke="#aebfcd" stroke-width="0.9" />
<line x1="116.3" y1="218.2" x2="124.1" y2="218.2" stroke="#aebfcd" stroke-width="0.95" />
<line x1="116.3" y1="227" x2="124.1" y2="227" stroke="#aebfcd" stroke-width="0.95" />
<circle cx="120.2" cy="222.6" r="2.3" fill="#99aec0"/>
<line x1="120.2" y1="271.6" x2="120.2" y2="279.8" stroke="#aebfcd" stroke-width="0.9" />
<line x1="116.3" y1="271.6" x2="124.1" y2="271.6" stroke="#aebfcd" stroke-width="0.95" />
<line x1="116.3" y1="279.8" x2="124.1" y2="279.8" stroke="#aebfcd" stroke-width="0.95" />
<polygon points="117.7,277.95 122.7,277.95 120.2,273.45" fill="#99aec0"/>
<line x1="130.4" y1="221.5" x2="130.4" y2="230.3" stroke="#aebfcd" stroke-width="0.9" />
<line x1="126.5" y1="221.5" x2="134.3" y2="221.5" stroke="#aebfcd" stroke-width="0.95" />
<line x1="126.5" y1="230.3" x2="134.3" y2="230.3" stroke="#aebfcd" stroke-width="0.95" />
<circle cx="130.4" cy="225.9" r="2.3" fill="#99aec0"/>
<line x1="130.4" y1="269.9" x2="130.4" y2="278.5" stroke="#aebfcd" stroke-width="0.9" />
<line x1="126.5" y1="269.9" x2="134.3" y2="269.9" stroke="#aebfcd" stroke-width="0.95" />
<line x1="126.5" y1="278.5" x2="134.3" y2="278.5" stroke="#aebfcd" stroke-width="0.95" />
<polygon points="127.9,276.45 132.9,276.45 130.4,271.95" fill="#99aec0"/>
<line x1="142.9" y1="216" x2="142.9" y2="224.2" stroke="#aebfcd" stroke-width="0.9" />
<line x1="139" y1="216" x2="146.8" y2="216" stroke="#aebfcd" stroke-width="0.95" />
<line x1="139" y1="224.2" x2="146.8" y2="224.2" stroke="#aebfcd" stroke-width="0.95" />
<circle cx="142.9" cy="220.1" r="2.3" fill="#99aec0"/>
<line x1="142.9" y1="269.4" x2="142.9" y2="277.9" stroke="#aebfcd" stroke-width="0.9" />
<line x1="139" y1="269.4" x2="146.8" y2="269.4" stroke="#aebfcd" stroke-width="0.95" />
<line x1="139" y1="277.9" x2="146.8" y2="277.9" stroke="#aebfcd" stroke-width="0.95" />
<polygon points="140.4,275.9 145.4,275.9 142.9,271.4" fill="#99aec0"/>
<line x1="159" y1="215.2" x2="159" y2="224.4" stroke="#aebfcd" stroke-width="0.9" />
<line x1="155.1" y1="215.2" x2="162.9" y2="215.2" stroke="#aebfcd" stroke-width="0.95" />
<line x1="155.1" y1="224.4" x2="162.9" y2="224.4" stroke="#aebfcd" stroke-width="0.95" />
<circle cx="159" cy="219.8" r="2.3" fill="#99aec0"/>
<line x1="159" y1="269.5" x2="159" y2="279.2" stroke="#aebfcd" stroke-width="0.9" />
<line x1="155.1" y1="269.5" x2="162.9" y2="269.5" stroke="#aebfcd" stroke-width="0.95" />
<line x1="155.1" y1="279.2" x2="162.9" y2="279.2" stroke="#aebfcd" stroke-width="0.95" />
<polygon points="156.5,276.6 161.5,276.6 159,272.1" fill="#99aec0"/>
<line x1="169" y1="212.3" x2="169" y2="222.3" stroke="#aebfcd" stroke-width="0.9" />
<line x1="165.1" y1="212.3" x2="172.9" y2="212.3" stroke="#aebfcd" stroke-width="0.95" />
<line x1="165.1" y1="222.3" x2="172.9" y2="222.3" stroke="#aebfcd" stroke-width="0.95" />
<circle cx="169" cy="217.3" r="2.3" fill="#99aec0"/>
<line x1="169" y1="272.3" x2="169" y2="282.2" stroke="#aebfcd" stroke-width="0.9" />
<line x1="165.1" y1="272.3" x2="172.9" y2="272.3" stroke="#aebfcd" stroke-width="0.95" />
<line x1="165.1" y1="282.2" x2="172.9" y2="282.2" stroke="#aebfcd" stroke-width="0.95" />
<polygon points="166.5,279.5 171.5,279.5 169,275" fill="#99aec0"/>
<line x1="181.7" y1="216.2" x2="181.7" y2="226.4" stroke="#aebfcd" stroke-width="0.9" />
<line x1="177.8" y1="216.2" x2="185.6" y2="216.2" stroke="#aebfcd" stroke-width="0.95" />
<line x1="177.8" y1="226.4" x2="185.6" y2="226.4" stroke="#aebfcd" stroke-width="0.95" />
<circle cx="181.7" cy="221.3" r="2.3" fill="#99aec0"/>
<line x1="181.7" y1="271.5" x2="181.7" y2="281.5" stroke="#aebfcd" stroke-width="0.9" />
<line x1="177.8" y1="271.5" x2="185.6" y2="271.5" stroke="#aebfcd" stroke-width="0.95" />
<line x1="177.8" y1="281.5" x2="185.6" y2="281.5" stroke="#aebfcd" stroke-width="0.95" />
<polygon points="179.2,278.75 184.2,278.75 181.7,274.25" fill="#99aec0"/>
<line x1="197.7" y1="211.1" x2="197.7" y2="221.8" stroke="#aebfcd" stroke-width="0.9" />
<line x1="193.8" y1="211.1" x2="201.6" y2="211.1" stroke="#aebfcd" stroke-width="0.95" />
<line x1="193.8" y1="221.8" x2="201.6" y2="221.8" stroke="#aebfcd" stroke-width="0.95" />
<circle cx="197.7" cy="216.45" r="2.3" fill="#99aec0"/>
<line x1="197.7" y1="272.3" x2="197.7" y2="283" stroke="#aebfcd" stroke-width="0.9" />
<line x1="193.8" y1="272.3" x2="201.6" y2="272.3" stroke="#aebfcd" stroke-width="0.95" />
<line x1="193.8" y1="283" x2="201.6" y2="283" stroke="#aebfcd" stroke-width="0.95" />
<polygon points="195.2,279.9 200.2,279.9 197.7,275.4" fill="#99aec0"/>
<line x1="208" y1="209.3" x2="208" y2="220.3" stroke="#aebfcd" stroke-width="0.9" />
<line x1="204.1" y1="209.3" x2="211.9" y2="209.3" stroke="#aebfcd" stroke-width="0.95" />
<line x1="204.1" y1="220.3" x2="211.9" y2="220.3" stroke="#aebfcd" stroke-width="0.95" />
<circle cx="208" cy="214.8" r="2.3" fill="#99aec0"/>
<line x1="208" y1="270.4" x2="208" y2="281.5" stroke="#aebfcd" stroke-width="0.9" />
<line x1="204.1" y1="270.4" x2="211.9" y2="270.4" stroke="#aebfcd" stroke-width="0.95" />
<line x1="204.1" y1="281.5" x2="211.9" y2="281.5" stroke="#aebfcd" stroke-width="0.95" />
<polygon points="205.5,278.2 210.5,278.2 208,273.7" fill="#99aec0"/>
<line x1="220.4" y1="205.4" x2="220.4" y2="217.2" stroke="#aebfcd" stroke-width="0.9" />
<line x1="216.5" y1="205.4" x2="224.3" y2="205.4" stroke="#aebfcd" stroke-width="0.95" />
<line x1="216.5" y1="217.2" x2="224.3" y2="217.2" stroke="#aebfcd" stroke-width="0.95" />
<circle cx="220.4" cy="211.3" r="2.3" fill="#99aec0"/>
<line x1="220.4" y1="277.3" x2="220.4" y2="289.1" stroke="#aebfcd" stroke-width="0.9" />
<line x1="216.5" y1="277.3" x2="224.3" y2="277.3" stroke="#aebfcd" stroke-width="0.95" />
<line x1="216.5" y1="289.1" x2="224.3" y2="289.1" stroke="#aebfcd" stroke-width="0.95" />
<polygon points="217.9,285.45 222.9,285.45 220.4,280.95" fill="#99aec0"/>
<line x1="236.4" y1="206.5" x2="236.4" y2="219.2" stroke="#aebfcd" stroke-width="0.9" />
<line x1="232.5" y1="206.5" x2="240.3" y2="206.5" stroke="#aebfcd" stroke-width="0.95" />
<line x1="232.5" y1="219.2" x2="240.3" y2="219.2" stroke="#aebfcd" stroke-width="0.95" />
<circle cx="236.4" cy="212.85" r="2.3" fill="#99aec0"/>
<line x1="236.4" y1="280.4" x2="236.4" y2="293.4" stroke="#aebfcd" stroke-width="0.9" />
<line x1="232.5" y1="280.4" x2="240.3" y2="280.4" stroke="#aebfcd" stroke-width="0.95" />
<line x1="232.5" y1="293.4" x2="240.3" y2="293.4" stroke="#aebfcd" stroke-width="0.95" />
<polygon points="233.9,289.15 238.9,289.15 236.4,284.65" fill="#99aec0"/>
<line x1="246.7" y1="205.4" x2="246.7" y2="218.3" stroke="#aebfcd" stroke-width="0.9" />
<line x1="242.8" y1="205.4" x2="250.6" y2="205.4" stroke="#aebfcd" stroke-width="0.95" />
<line x1="242.8" y1="218.3" x2="250.6" y2="218.3" stroke="#aebfcd" stroke-width="0.95" />
<circle cx="246.7" cy="211.85" r="2.3" fill="#99aec0"/>
<line x1="246.7" y1="281.5" x2="246.7" y2="295" stroke="#aebfcd" stroke-width="0.9" />
<line x1="242.8" y1="281.5" x2="250.6" y2="281.5" stroke="#aebfcd" stroke-width="0.95" />
<line x1="242.8" y1="295" x2="250.6" y2="295" stroke="#aebfcd" stroke-width="0.95" />
<polygon points="244.2,290.5 249.2,290.5 246.7,286" fill="#99aec0"/>
<circle cx="81.6" cy="225.7" r="2.1" fill="#f29a62"/>
<circle cx="81.6" cy="225.7" r="1.9" fill="none" stroke="#1f3f66" stroke-width="1.1"/>
<polygon points="79.7,277.71 83.5,277.71 81.6,274.29" fill="#f29a62"/>
<polygon points="79.6,277.8 83.6,277.8 81.6,274.2" fill="none" stroke="#1f3f66" stroke-width="0.95" stroke-linejoin="round"/>
<circle cx="91.7" cy="224.2" r="2.1" fill="#f29a62"/>
<circle cx="91.7" cy="224.2" r="1.9" fill="none" stroke="#1f3f66" stroke-width="1.1"/>
<polygon points="89.8,277.41 93.6,277.41 91.7,273.99" fill="#f29a62"/>
<polygon points="89.7,277.5 93.7,277.5 91.7,273.9" fill="none" stroke="#1f3f66" stroke-width="0.95" stroke-linejoin="round"/>
<circle cx="103.9" cy="223.1" r="2.1" fill="#f29a62"/>
<circle cx="103.9" cy="223.1" r="1.9" fill="none" stroke="#1f3f66" stroke-width="1.1"/>
<polygon points="102,277.11 105.8,277.11 103.9,273.69" fill="#f29a62"/>
<polygon points="101.9,277.2 105.9,277.2 103.9,273.6" fill="none" stroke="#1f3f66" stroke-width="0.95" stroke-linejoin="round"/>
<circle cx="120.2" cy="221.5" r="2.1" fill="#f29a62"/>
<circle cx="120.2" cy="221.5" r="1.9" fill="none" stroke="#1f3f66" stroke-width="1.1"/>
<polygon points="118.3,277.11 122.1,277.11 120.2,273.69" fill="#f29a62"/>
<polygon points="118.2,277.2 122.2,277.2 120.2,273.6" fill="none" stroke="#1f3f66" stroke-width="0.95" stroke-linejoin="round"/>
<circle cx="130.4" cy="220.7" r="2.1" fill="#f29a62"/>
<circle cx="130.4" cy="220.7" r="1.9" fill="none" stroke="#1f3f66" stroke-width="1.1"/>
<polygon points="128.5,277.11 132.3,277.11 130.4,273.69" fill="#f29a62"/>
<polygon points="128.4,277.2 132.4,277.2 130.4,273.6" fill="none" stroke="#1f3f66" stroke-width="0.95" stroke-linejoin="round"/>
<circle cx="142.9" cy="219.9" r="2.1" fill="#f29a62"/>
<circle cx="142.9" cy="219.9" r="1.9" fill="none" stroke="#1f3f66" stroke-width="1.1"/>
<polygon points="141,277.11 144.8,277.11 142.9,273.69" fill="#f29a62"/>
<polygon points="140.9,277.2 144.9,277.2 142.9,273.6" fill="none" stroke="#1f3f66" stroke-width="0.95" stroke-linejoin="round"/>
<circle cx="159" cy="218.8" r="2.1" fill="#f29a62"/>
<circle cx="159" cy="218.8" r="1.9" fill="none" stroke="#1f3f66" stroke-width="1.1"/>
<polygon points="157.1,277.01 160.9,277.01 159,273.59" fill="#f29a62"/>
<polygon points="157,277.1 161,277.1 159,273.5" fill="none" stroke="#1f3f66" stroke-width="0.95" stroke-linejoin="round"/>
<circle cx="169" cy="218" r="2.1" fill="#f29a62"/>
<circle cx="169" cy="218" r="1.9" fill="none" stroke="#1f3f66" stroke-width="1.1"/>
<polygon points="167.1,277.81 170.9,277.81 169,274.39" fill="#f29a62"/>
<polygon points="167,277.9 171,277.9 169,274.3" fill="none" stroke="#1f3f66" stroke-width="0.95" stroke-linejoin="round"/>
<circle cx="181.7" cy="217.2" r="2.1" fill="#f29a62"/>
<circle cx="181.7" cy="217.2" r="1.9" fill="none" stroke="#1f3f66" stroke-width="1.1"/>
<polygon points="179.8,278.61 183.6,278.61 181.7,275.19" fill="#f29a62"/>
<polygon points="179.7,278.7 183.7,278.7 181.7,275.1" fill="none" stroke="#1f3f66" stroke-width="0.95" stroke-linejoin="round"/>
<circle cx="197.7" cy="216.2" r="2.1" fill="#f29a62"/>
<circle cx="197.7" cy="216.2" r="1.9" fill="none" stroke="#1f3f66" stroke-width="1.1"/>
<polygon points="195.8,279.81 199.6,279.81 197.7,276.39" fill="#f29a62"/>
<polygon points="195.7,279.9 199.7,279.9 197.7,276.3" fill="none" stroke="#1f3f66" stroke-width="0.95" stroke-linejoin="round"/>
<circle cx="208" cy="214.9" r="2.1" fill="#f29a62"/>
<circle cx="208" cy="214.9" r="1.9" fill="none" stroke="#1f3f66" stroke-width="1.1"/>
<polygon points="206.1,280.91 209.9,280.91 208,277.49" fill="#f29a62"/>
<polygon points="206,281 210,281 208,277.4" fill="none" stroke="#1f3f66" stroke-width="0.95" stroke-linejoin="round"/>
<circle cx="220.4" cy="213.7" r="2.1" fill="#f29a62"/>
<circle cx="220.4" cy="213.7" r="1.9" fill="none" stroke="#1f3f66" stroke-width="1.1"/>
<polygon points="218.5,283.61 222.3,283.61 220.4,280.19" fill="#f29a62"/>
<polygon points="218.4,283 222.4,283 220.4,279.4" fill="none" stroke="#1f3f66" stroke-width="0.95" stroke-linejoin="round"/>
<circle cx="236.4" cy="211.9" r="2.1" fill="#f29a62"/>
<circle cx="236.4" cy="211.9" r="1.9" fill="none" stroke="#1f3f66" stroke-width="1.1"/>
<polygon points="234.5,286.51 238.3,286.51 236.4,283.09" fill="#f29a62"/>
<polygon points="234.4,285.6 238.4,285.6 236.4,282" fill="none" stroke="#1f3f66" stroke-width="0.95" stroke-linejoin="round"/>
<circle cx="246.7" cy="209.4" r="2.1" fill="#f29a62"/>
<circle cx="246.7" cy="210" r="1.9" fill="none" stroke="#1f3f66" stroke-width="1.1"/>
<polygon points="244.8,289.11 248.6,289.11 246.7,285.69" fill="#f29a62"/>
<polygon points="244.7,288.2 248.7,288.2 246.7,284.6" fill="none" stroke="#1f3f66" stroke-width="0.95" stroke-linejoin="round"/>
<text x="57" y="200.8" font-size="11.4" letter-spacing="0.68" fill="#2b2b2b"><tspan font-style="italic">RMS</tspan>= 0.841</text>
<text x="57" y="212.7" font-size="11.4" letter-spacing="0.68" fill="#2b2b2b"><tspan font-style="italic">RMS</tspan><tspan font-size="7" letter-spacing="0" dy="2.6" fill="#555">max</tspan><tspan dy="-2.6">= 1.040</tspan></text>
<rect x="49.3" y="187.1" width="206.55" height="123.5" fill="none" stroke="#1d1212" stroke-width="1.9"/>
<text transform="translate(9.4,246.2) rotate(-90)" text-anchor="middle" font-size="11.4" letter-spacing="0.82" fill="#2b2b2b"><tspan font-style="italic">C</tspan>-responses(km)</text>
<rect x="298.6" y="187.1" width="176.1" height="30.35" fill="#f2f2f2" />
<rect x="314.9" y="217.45" width="159.8" height="21.05" fill="#f2f2f2" />
<rect x="344.9" y="238.5" width="129.8" height="26.45" fill="#f2f2f2" />
<rect x="374.5" y="264.95" width="100.2" height="45.65" fill="#f2f2f2" />
<rect x="334.3" y="187.1" width="15.9" height="30.35" fill="#f6cdb3" />
<rect x="342.9" y="217.45" width="18.9" height="21.05" fill="#f6cdb3" />
<rect x="378.2" y="238.5" width="10" height="26.45" fill="#f6cdb3" />
<rect x="442" y="264.95" width="1" height="45.65" fill="#f6cdb3" />
<line x1="268.3" y1="217.45" x2="474.7" y2="217.45" stroke="#c2c2c2" stroke-width="0.9" stroke-dasharray="1.8 1.4"/>
<line x1="268.3" y1="238.5" x2="474.7" y2="238.5" stroke="#c2c2c2" stroke-width="0.9" stroke-dasharray="1.8 1.4"/>
<line x1="268.3" y1="264.95" x2="474.7" y2="264.95" stroke="#c2c2c2" stroke-width="0.9" stroke-dasharray="1.8 1.4"/>
<path d="M339.8,187.1 L339.8,217.45 L355.6,217.45 L355.6,238.5 L385.6,238.5 L385.6,264.95 L415.7,264.95 L415.7,310.52" fill="none" stroke="#858585" stroke-width="1.15" stroke-dasharray="2.5 1.8"/>
<path d="M340.6,187.1 L340.6,217.45 L352.7,217.45 L352.7,238.5 L384.3,238.5 L384.3,264.95 L442.5,264.95 L442.5,310.52" fill="none" stroke="#ee8048" stroke-width="1.1"/>
<path d="M339.8,187.1 L339.8,217.45 L355.6,217.45 L355.6,238.5 L385.6,238.5 L385.6,264.95 L443.7,264.95 L443.7,310.52" fill="none" stroke="#1c4a7a" stroke-width="1.5" stroke-dasharray="2.3 1.2"/>
<text x="271.5" y="214.2" text-anchor="start" font-size="11.7" letter-spacing="0.68" fill="#2b2b2b" >UM</text>
<text x="271.5" y="229" text-anchor="start" font-size="11.7" letter-spacing="0.68" fill="#2b2b2b" >UMTZ</text>
<text x="271.7" y="261.9" text-anchor="start" font-size="11.7" letter-spacing="0.68" fill="#2b2b2b" >LMTZ</text>
<text x="271.5" y="276.2" text-anchor="start" font-size="11.7" letter-spacing="0.68" fill="#2b2b2b" >ULM</text>
<text x="438.6" y="199.6" text-anchor="end" font-size="11.6" letter-spacing="0.62" fill="#2b2b2b" >Theoretical</text>
<text x="438.6" y="212.8" text-anchor="end" font-size="11.6" letter-spacing="0.62" fill="#2b2b2b" >Inversion</text>
<text x="438.6" y="226" text-anchor="end" font-size="11.8" letter-spacing="0.62" fill="#2b2b2b" >GM</text>
<line x1="443" y1="195.3" x2="467.8" y2="195.3" stroke="#1c4a7a" stroke-width="1.4" stroke-dasharray="2.3 1.2"/>
<rect x="443" y="204.3" width="24.8" height="8.5" fill="#f6cdb3" />
<line x1="443" y1="208.5" x2="467.8" y2="208.5" stroke="#ee8048" stroke-width="1.1" />
<line x1="443" y1="221.7" x2="467.8" y2="221.7" stroke="#858585" stroke-width="1.1" stroke-dasharray="2.5 1.8"/>
<line x1="268.43" y1="310.6" x2="268.43" y2="315.6" stroke="#3a3a3a" stroke-width="1" />
<line x1="283.11" y1="310.6" x2="283.11" y2="315.6" stroke="#3a3a3a" stroke-width="1" />
<line x1="297.8" y1="310.6" x2="297.8" y2="315.6" stroke="#3a3a3a" stroke-width="1" />
<line x1="312.49" y1="310.6" x2="312.49" y2="315.6" stroke="#3a3a3a" stroke-width="1" />
<line x1="327.18" y1="310.6" x2="327.18" y2="315.6" stroke="#3a3a3a" stroke-width="1" />
<line x1="341.86" y1="310.6" x2="341.86" y2="315.6" stroke="#3a3a3a" stroke-width="1" />
<line x1="356.55" y1="310.6" x2="356.55" y2="315.6" stroke="#3a3a3a" stroke-width="1" />
<line x1="371.24" y1="310.6" x2="371.24" y2="315.6" stroke="#3a3a3a" stroke-width="1" />
<line x1="385.93" y1="310.6" x2="385.93" y2="315.6" stroke="#3a3a3a" stroke-width="1" />
<line x1="400.61" y1="310.6" x2="400.61" y2="315.6" stroke="#3a3a3a" stroke-width="1" />
<line x1="415.3" y1="310.6" x2="415.3" y2="315.6" stroke="#3a3a3a" stroke-width="1" />
<line x1="429.99" y1="310.6" x2="429.99" y2="315.6" stroke="#3a3a3a" stroke-width="1" />
<line x1="444.68" y1="310.6" x2="444.68" y2="315.6" stroke="#3a3a3a" stroke-width="1" />
<line x1="459.36" y1="310.6" x2="459.36" y2="315.6" stroke="#3a3a3a" stroke-width="1" />
<line x1="474.05" y1="310.6" x2="474.05" y2="315.6" stroke="#3a3a3a" stroke-width="1" />
<line x1="474.7" y1="196.16" x2="479.7" y2="196.16" stroke="#3a3a3a" stroke-width="1" />
<text x="481.6" y="199.96" text-anchor="start" font-size="11.4" letter-spacing="0.68" fill="#2b2b2b" >300</text>
<line x1="474.7" y1="215.22" x2="479.7" y2="215.22" stroke="#3a3a3a" stroke-width="1" />
<text x="481.6" y="219.02" text-anchor="start" font-size="11.4" letter-spacing="0.68" fill="#2b2b2b" >400</text>
<line x1="474.7" y1="234.28" x2="479.7" y2="234.28" stroke="#3a3a3a" stroke-width="1" />
<text x="481.6" y="238.08" text-anchor="start" font-size="11.4" letter-spacing="0.68" fill="#2b2b2b" >500</text>
<line x1="474.7" y1="253.34" x2="479.7" y2="253.34" stroke="#3a3a3a" stroke-width="1" />
<text x="481.6" y="257.14" text-anchor="start" font-size="11.4" letter-spacing="0.68" fill="#2b2b2b" >700</text>
<line x1="474.7" y1="272.4" x2="479.7" y2="272.4" stroke="#3a3a3a" stroke-width="1" />
<text x="481.6" y="276.2" text-anchor="start" font-size="11.4" letter-spacing="0.68" fill="#2b2b2b" >800</text>
<line x1="474.7" y1="291.46" x2="479.7" y2="291.46" stroke="#3a3a3a" stroke-width="1" />
<text x="481.6" y="295.26" text-anchor="start" font-size="11.4" letter-spacing="0.68" fill="#2b2b2b" >600</text>
<line x1="474.7" y1="310.52" x2="479.7" y2="310.52" stroke="#3a3a3a" stroke-width="1" />
<text x="481.6" y="314.32" text-anchor="start" font-size="11.4" letter-spacing="0.68" fill="#2b2b2b" >900</text>
<rect x="268.3" y="187.1" width="206.4" height="123.5" fill="none" stroke="#1d1212" stroke-width="1.9"/>
<text transform="translate(507.2,247.7) rotate(90)" text-anchor="middle" font-size="11.4" letter-spacing="0.68" fill="#2b2b2b">Depth (km)</text>
<clipPath id="clip1"><rect x="524.4" y="187.1" width="123" height="123.5"/></clipPath>
<g clip-path="url(#clip1)">
<line x1="524.4" y1="310.6" x2="647.4" y2="187.1" stroke="#e2e2e2" stroke-width="1" />
<path d="M525.36,305.57 C526.6,304.67 530.41,301.86 532.77,300.18 C535.12,298.5 537.25,297.27 539.5,295.47 C541.74,293.68 544.21,291.66 546.23,289.41 C548.24,287.17 549.82,284.48 551.61,282.01 C553.4,279.54 555.2,276.63 556.99,274.61 C558.79,272.59 560.58,271.47 562.38,269.9 C564.17,268.33 565.97,266.65 567.76,265.19 C569.55,263.73 568.72,265.71 573.14,261.15 C577.56,256.6 589.57,243.41 594.29,237.86 C599,232.31 599.05,230.71 601.43,227.86 C603.81,225 606.19,223.1 608.57,220.71 C610.95,218.33 613.33,215.71 615.71,213.57 C618.1,211.43 620.48,209.76 622.86,207.86 C625.24,205.95 627.62,203.93 630,202.14 C632.38,200.36 635,198.69 637.14,197.14 C639.29,195.6 641.19,194.29 642.86,192.86 C644.52,191.43 646.43,189.29 647.14,188.57" fill="none" stroke="#c8b6aa" stroke-width="1.2" stroke-dasharray="3 4"/>
<path d="M525.36,302.87 C526.6,302.2 530.41,300.18 532.77,298.84 C535.12,297.49 537.25,295.92 539.5,294.8 C541.74,293.68 543.98,293.23 546.23,292.11 C548.47,290.98 550.71,289.41 552.96,288.07 C555.2,286.72 557.44,285.83 559.69,284.03 C561.93,282.24 564.17,279.77 566.41,277.3 C568.66,274.83 571.13,271.69 573.14,269.23 C575.16,266.76 575.48,266.53 578.53,262.5 C581.58,258.46 588.09,249.82 591.43,245 C594.77,240.18 596.19,237.14 598.57,233.57 C600.95,230 603.33,226.19 605.71,223.57 C608.1,220.95 610.48,219.76 612.86,217.86 C615.24,215.95 617.62,214.29 620,212.14 C622.38,210 624.76,207.14 627.14,205 C629.52,202.86 631.9,201.07 634.29,199.29 C636.67,197.5 639.29,196.07 641.43,194.29 C643.57,192.5 646.19,189.52 647.14,188.57" fill="none" stroke="#3a2c22" stroke-width="1.5" stroke-dasharray="3.3 1.1"/>
<path d="M526.04,304.22 C527.16,303.43 530.52,300.97 532.77,299.51 C535.01,298.05 537.25,296.82 539.5,295.47 C541.74,294.13 543.98,292.67 546.23,291.43 C548.47,290.2 550.71,289.3 552.96,288.07 C555.2,286.83 557.44,285.71 559.69,284.03 C561.93,282.35 564.17,280.33 566.41,277.97 C568.66,275.62 570.9,272.82 573.14,269.9 C575.39,266.98 576.83,264.63 579.87,260.48 C582.92,256.33 588.55,249.25 591.43,245 C594.31,240.75 595.24,238.33 597.14,235 C599.05,231.67 600.95,228.1 602.86,225 C604.76,221.9 606.43,219.05 608.57,216.43 C610.71,213.81 613.33,211.43 615.71,209.29 C618.1,207.14 620.48,205.24 622.86,203.57 C625.24,201.9 627.62,200.48 630,199.29 C632.38,198.1 635,197.38 637.14,196.43 C639.29,195.48 641.19,194.76 642.86,193.57 C644.52,192.38 646.43,190 647.14,189.29" fill="none" stroke="#17998a" stroke-width="1.6" stroke-dasharray="1.3 1.35"/>
<path d="M528.06,308.26 C529.07,307.36 532.21,305.12 534.11,302.87 C536.02,300.63 537.7,297.27 539.5,294.8 C541.29,292.33 543.09,290.31 544.88,288.07 C546.67,285.83 548.47,283.81 550.26,281.34 C552.06,278.87 553.85,275.62 555.65,273.26 C557.44,270.91 559.01,269.45 561.03,267.21 C563.05,264.96 565.52,262.05 567.76,259.8 C570,257.56 571.26,256.93 574.49,253.75 C577.72,250.57 583.84,243.84 587.14,240.71 C590.44,237.59 591.9,236.9 594.29,235 C596.67,233.1 599.05,231.19 601.43,229.29 C603.81,227.38 606.19,225.48 608.57,223.57 C610.95,221.67 613.33,219.52 615.71,217.86 C618.1,216.19 620.48,215.24 622.86,213.57 C625.24,211.9 627.62,209.76 630,207.86 C632.38,205.95 635,203.81 637.14,202.14 C639.29,200.48 641.19,199.76 642.86,197.86 C644.52,195.95 646.43,191.9 647.14,190.71" fill="none" stroke="#f39a2c" stroke-width="1.5" stroke-dasharray="6.5 2 1.5 2"/>
</g>
<line x1="531.8" y1="198.8" x2="548.8" y2="198.8" stroke="#17998a" stroke-width="1.6" stroke-dasharray="1.3 1.35"/>
<text x="554.6" y="202.7" text-anchor="start" font-size="11.4" letter-spacing="0.68" fill="#2b2b2b" >UM</text>
<line x1="531.8" y1="211.7" x2="548.8" y2="211.7" stroke="#3a2c22" stroke-width="1.5" stroke-dasharray="3.3 1.1"/>
<text x="554.6" y="215.6" text-anchor="start" font-size="11.4" letter-spacing="0.68" fill="#2b2b2b" >UMTZ</text>
<line x1="531.8" y1="224.5" x2="548.8" y2="224.5" stroke="#c8b6aa" stroke-width="1.2" stroke-dasharray="3 4"/>
<text x="554.6" y="228.4" text-anchor="start" font-size="11.4" letter-spacing="0.68" fill="#2b2b2b" >LMTZ</text>
<line x1="531.8" y1="237.3" x2="548.8" y2="237.3" stroke="#f39a2c" stroke-width="1.5" stroke-dasharray="6.5 2 1.5 2"/>
<text x="554.6" y="241.2" text-anchor="start" font-size="11.4" letter-spacing="0.68" fill="#2b2b2b" >ULM</text>
<line x1="524.4" y1="310.6" x2="524.4" y2="315.6" stroke="#3a3a3a" stroke-width="1" />
<line x1="536.7" y1="310.6" x2="536.7" y2="313.6" stroke="#3a3a3a" stroke-width="1" />
<line x1="549" y1="310.6" x2="549" y2="313.6" stroke="#3a3a3a" stroke-width="1" />
<line x1="561.3" y1="310.6" x2="561.3" y2="313.6" stroke="#3a3a3a" stroke-width="1" />
<line x1="573.6" y1="310.6" x2="573.6" y2="313.6" stroke="#3a3a3a" stroke-width="1" />
<line x1="585.9" y1="310.6" x2="585.9" y2="315.6" stroke="#3a3a3a" stroke-width="1" />
<line x1="598.2" y1="310.6" x2="598.2" y2="313.6" stroke="#3a3a3a" stroke-width="1" />
<line x1="610.5" y1="310.6" x2="610.5" y2="313.6" stroke="#3a3a3a" stroke-width="1" />
<line x1="622.8" y1="310.6" x2="622.8" y2="313.6" stroke="#3a3a3a" stroke-width="1" />
<line x1="635.1" y1="310.6" x2="635.1" y2="313.6" stroke="#3a3a3a" stroke-width="1" />
<line x1="647.4" y1="310.6" x2="647.4" y2="315.6" stroke="#3a3a3a" stroke-width="1" />
<line x1="647.4" y1="310.6" x2="652.4" y2="310.6" stroke="#3a3a3a" stroke-width="1" />
<line x1="647.4" y1="298.25" x2="649.9" y2="298.25" stroke="#3a3a3a" stroke-width="1" />
<line x1="647.4" y1="285.9" x2="649.9" y2="285.9" stroke="#3a3a3a" stroke-width="1" />
<line x1="647.4" y1="273.55" x2="649.9" y2="273.55" stroke="#3a3a3a" stroke-width="1" />
<line x1="647.4" y1="261.2" x2="649.9" y2="261.2" stroke="#3a3a3a" stroke-width="1" />
<line x1="647.4" y1="248.85" x2="652.4" y2="248.85" stroke="#3a3a3a" stroke-width="1" />
<line x1="647.4" y1="236.5" x2="649.9" y2="236.5" stroke="#3a3a3a" stroke-width="1" />
<line x1="647.4" y1="224.15" x2="649.9" y2="224.15" stroke="#3a3a3a" stroke-width="1" />
<line x1="647.4" y1="211.8" x2="649.9" y2="211.8" stroke="#3a3a3a" stroke-width="1" />
<line x1="647.4" y1="199.45" x2="649.9" y2="199.45" stroke="#3a3a3a" stroke-width="1" />
<line x1="647.4" y1="187.1" x2="652.4" y2="187.1" stroke="#3a3a3a" stroke-width="1" />
<text x="654.6" y="190.9" text-anchor="start" font-size="11.4" letter-spacing="0.68" fill="#2b2b2b" >1.0</text>
<text x="654.6" y="252.65" text-anchor="start" font-size="11.4" letter-spacing="0.68" fill="#2b2b2b" >0.5</text>
<text x="654.6" y="314.4" text-anchor="start" font-size="11.4" letter-spacing="0.68" fill="#2b2b2b" >0.0</text>
<text x="524.8" y="326.3" text-anchor="middle" font-size="11.4" letter-spacing="0.68" fill="#2b2b2b" >0.0</text>
<text x="586.3" y="326.3" text-anchor="middle" font-size="11.4" letter-spacing="0.68" fill="#2b2b2b" >0.5</text>
<text x="647.8" y="326.3" text-anchor="middle" font-size="11.4" letter-spacing="0.68" fill="#2b2b2b" >1.0</text>
<rect x="524.4" y="187.1" width="123" height="123.5" fill="none" stroke="#1d1212" stroke-width="1.9"/>
<text transform="translate(675.2,250.6) rotate(90)" text-anchor="middle" font-size="11.4" letter-spacing="0.55" fill="#2b2b2b">Theoretical CP</text>
<line x1="46.3" y1="455.9" x2="49.3" y2="455.9" stroke="#3a3a3a" stroke-width="1" />
<line x1="46.3" y1="449.4" x2="49.3" y2="449.4" stroke="#3a3a3a" stroke-width="1" />
<line x1="44.3" y1="442.9" x2="49.3" y2="442.9" stroke="#3a3a3a" stroke-width="1" />
<line x1="46.3" y1="436.4" x2="49.3" y2="436.4" stroke="#3a3a3a" stroke-width="1" />
<line x1="46.3" y1="429.9" x2="49.3" y2="429.9" stroke="#3a3a3a" stroke-width="1" />
<line x1="46.3" y1="423.4" x2="49.3" y2="423.4" stroke="#3a3a3a" stroke-width="1" />
<line x1="46.3" y1="416.9" x2="49.3" y2="416.9" stroke="#3a3a3a" stroke-width="1" />
<line x1="44.3" y1="410.4" x2="49.3" y2="410.4" stroke="#3a3a3a" stroke-width="1" />
<line x1="46.3" y1="403.9" x2="49.3" y2="403.9" stroke="#3a3a3a" stroke-width="1" />
<line x1="46.3" y1="397.4" x2="49.3" y2="397.4" stroke="#3a3a3a" stroke-width="1" />
<line x1="46.3" y1="390.9" x2="49.3" y2="390.9" stroke="#3a3a3a" stroke-width="1" />
<line x1="46.3" y1="384.4" x2="49.3" y2="384.4" stroke="#3a3a3a" stroke-width="1" />
<line x1="44.3" y1="377.9" x2="49.3" y2="377.9" stroke="#3a3a3a" stroke-width="1" />
<line x1="46.3" y1="371.4" x2="49.3" y2="371.4" stroke="#3a3a3a" stroke-width="1" />
<line x1="46.3" y1="364.9" x2="49.3" y2="364.9" stroke="#3a3a3a" stroke-width="1" />
<line x1="46.3" y1="358.4" x2="49.3" y2="358.4" stroke="#3a3a3a" stroke-width="1" />
<line x1="46.3" y1="351.9" x2="49.3" y2="351.9" stroke="#3a3a3a" stroke-width="1" />
<line x1="44.3" y1="345.4" x2="49.3" y2="345.4" stroke="#3a3a3a" stroke-width="1" />
<line x1="46.3" y1="338.9" x2="49.3" y2="338.9" stroke="#3a3a3a" stroke-width="1" />
<line x1="46.3" y1="332.4" x2="49.3" y2="332.4" stroke="#3a3a3a" stroke-width="1" />
<text x="40.2" y="349.2" text-anchor="end" font-size="11.4" letter-spacing="0.68" fill="#2b2b2b" >1000</text>
<text x="40.2" y="381.7" text-anchor="end" font-size="11.4" letter-spacing="0.68" fill="#2b2b2b" >500</text>
<text x="40.2" y="414.2" text-anchor="end" font-size="11.4" letter-spacing="0.68" fill="#2b2b2b" >0</text>
<text x="40.2" y="446.7" text-anchor="end" font-size="11.4" letter-spacing="0.68" fill="#2b2b2b" >-500</text>
<line x1="49.4" y1="455.9" x2="49.4" y2="461.9" stroke="#3a3a3a" stroke-width="1" />
<line x1="88.14" y1="455.9" x2="88.14" y2="459.1" stroke="#3a3a3a" stroke-width="1" />
<line x1="110.81" y1="455.9" x2="110.81" y2="459.1" stroke="#3a3a3a" stroke-width="1" />
<line x1="126.89" y1="455.9" x2="126.89" y2="459.1" stroke="#3a3a3a" stroke-width="1" />
<line x1="139.36" y1="455.9" x2="139.36" y2="459.1" stroke="#3a3a3a" stroke-width="1" />
<line x1="149.55" y1="455.9" x2="149.55" y2="459.1" stroke="#3a3a3a" stroke-width="1" />
<line x1="158.16" y1="455.9" x2="158.16" y2="459.1" stroke="#3a3a3a" stroke-width="1" />
<line x1="165.63" y1="455.9" x2="165.63" y2="459.1" stroke="#3a3a3a" stroke-width="1" />
<line x1="172.21" y1="455.9" x2="172.21" y2="459.1" stroke="#3a3a3a" stroke-width="1" />
<line x1="178.1" y1="455.9" x2="178.1" y2="461.9" stroke="#3a3a3a" stroke-width="1" />
<line x1="216.84" y1="455.9" x2="216.84" y2="459.1" stroke="#3a3a3a" stroke-width="1" />
<line x1="239.51" y1="455.9" x2="239.51" y2="459.1" stroke="#3a3a3a" stroke-width="1" />
<line x1="255.59" y1="455.9" x2="255.59" y2="459.1" stroke="#3a3a3a" stroke-width="1" />
<line x1="81.6" y1="372" x2="81.6" y2="379.3" stroke="#aebfcd" stroke-width="0.9" />
<line x1="77.7" y1="372" x2="85.5" y2="372" stroke="#aebfcd" stroke-width="0.95" />
<line x1="77.7" y1="379.3" x2="85.5" y2="379.3" stroke="#aebfcd" stroke-width="0.95" />
<circle cx="81.6" cy="375.65" r="2.3" fill="#99aec0"/>
<line x1="81.6" y1="412.9" x2="81.6" y2="420.9" stroke="#aebfcd" stroke-width="0.9" />
<line x1="77.7" y1="412.9" x2="85.5" y2="412.9" stroke="#aebfcd" stroke-width="0.95" />
<line x1="77.7" y1="420.9" x2="85.5" y2="420.9" stroke="#aebfcd" stroke-width="0.95" />
<polygon points="79.1,419.15 84.1,419.15 81.6,414.65" fill="#99aec0"/>
<line x1="91.7" y1="370.3" x2="91.7" y2="377.5" stroke="#aebfcd" stroke-width="0.9" />
<line x1="87.8" y1="370.3" x2="95.6" y2="370.3" stroke="#aebfcd" stroke-width="0.95" />
<line x1="87.8" y1="377.5" x2="95.6" y2="377.5" stroke="#aebfcd" stroke-width="0.95" />
<circle cx="91.7" cy="373.9" r="2.3" fill="#99aec0"/>
<line x1="91.7" y1="414.3" x2="91.7" y2="422.3" stroke="#aebfcd" stroke-width="0.9" />
<line x1="87.8" y1="414.3" x2="95.6" y2="414.3" stroke="#aebfcd" stroke-width="0.95" />
<line x1="87.8" y1="422.3" x2="95.6" y2="422.3" stroke="#aebfcd" stroke-width="0.95" />
<polygon points="89.2,420.55 94.2,420.55 91.7,416.05" fill="#99aec0"/>
<line x1="103.9" y1="367.4" x2="103.9" y2="375.3" stroke="#aebfcd" stroke-width="0.9" />
<line x1="100" y1="367.4" x2="107.8" y2="367.4" stroke="#aebfcd" stroke-width="0.95" />
<line x1="100" y1="375.3" x2="107.8" y2="375.3" stroke="#aebfcd" stroke-width="0.95" />
<circle cx="103.9" cy="371.35" r="2.3" fill="#99aec0"/>
<line x1="103.9" y1="413.2" x2="103.9" y2="421.4" stroke="#aebfcd" stroke-width="0.9" />
<line x1="100" y1="413.2" x2="107.8" y2="413.2" stroke="#aebfcd" stroke-width="0.95" />
<line x1="100" y1="421.4" x2="107.8" y2="421.4" stroke="#aebfcd" stroke-width="0.95" />
<polygon points="101.4,419.55 106.4,419.55 103.9,415.05" fill="#99aec0"/>
<line x1="120.2" y1="365.4" x2="120.2" y2="373.4" stroke="#aebfcd" stroke-width="0.9" />
<line x1="116.3" y1="365.4" x2="124.1" y2="365.4" stroke="#aebfcd" stroke-width="0.95" />
<line x1="116.3" y1="373.4" x2="124.1" y2="373.4" stroke="#aebfcd" stroke-width="0.95" />
<circle cx="120.2" cy="369.4" r="2.3" fill="#99aec0"/>
<line x1="120.2" y1="415.4" x2="120.2" y2="423.6" stroke="#aebfcd" stroke-width="0.9" />
<line x1="116.3" y1="415.4" x2="124.1" y2="415.4" stroke="#aebfcd" stroke-width="0.95" />
<line x1="116.3" y1="423.6" x2="124.1" y2="423.6" stroke="#aebfcd" stroke-width="0.95" />
<polygon points="117.7,421.75 122.7,421.75 120.2,417.25" fill="#99aec0"/>
<line x1="130.4" y1="361.8" x2="130.4" y2="370.3" stroke="#aebfcd" stroke-width="0.9" />
<line x1="126.5" y1="361.8" x2="134.3" y2="361.8" stroke="#aebfcd" stroke-width="0.95" />
<line x1="126.5" y1="370.3" x2="134.3" y2="370.3" stroke="#aebfcd" stroke-width="0.95" />
<circle cx="130.4" cy="366.05" r="2.3" fill="#99aec0"/>
<line x1="130.4" y1="412.9" x2="130.4" y2="421.4" stroke="#aebfcd" stroke-width="0.9" />
<line x1="126.5" y1="412.9" x2="134.3" y2="412.9" stroke="#aebfcd" stroke-width="0.95" />
<line x1="126.5" y1="421.4" x2="134.3" y2="421.4" stroke="#aebfcd" stroke-width="0.95" />
<polygon points="127.9,419.4 132.9,419.4 130.4,414.9" fill="#99aec0"/>
<line x1="142.9" y1="362.4" x2="142.9" y2="371.4" stroke="#aebfcd" stroke-width="0.9" />
<line x1="139" y1="362.4" x2="146.8" y2="362.4" stroke="#aebfcd" stroke-width="0.95" />
<line x1="139" y1="371.4" x2="146.8" y2="371.4" stroke="#aebfcd" stroke-width="0.95" />
<circle cx="142.9" cy="366.9" r="2.3" fill="#99aec0"/>
<line x1="142.9" y1="416.3" x2="142.9" y2="425.3" stroke="#aebfcd" stroke-width="0.9" />
<line x1="139" y1="416.3" x2="146.8" y2="416.3" stroke="#aebfcd" stroke-width="0.95" />
<line x1="139" y1="425.3" x2="146.8" y2="425.3" stroke="#aebfcd" stroke-width="0.95" />
<polygon points="140.4,423.05 145.4,423.05 142.9,418.55" fill="#99aec0"/>
<line x1="159" y1="363" x2="159" y2="372.2" stroke="#aebfcd" stroke-width="0.9" />
<line x1="155.1" y1="363" x2="162.9" y2="363" stroke="#aebfcd" stroke-width="0.95" />
<line x1="155.1" y1="372.2" x2="162.9" y2="372.2" stroke="#aebfcd" stroke-width="0.95" />
<circle cx="159" cy="367.6" r="2.3" fill="#99aec0"/>
<line x1="159" y1="414.6" x2="159" y2="424.2" stroke="#aebfcd" stroke-width="0.9" />
<line x1="155.1" y1="414.6" x2="162.9" y2="414.6" stroke="#aebfcd" stroke-width="0.95" />
<line x1="155.1" y1="424.2" x2="162.9" y2="424.2" stroke="#aebfcd" stroke-width="0.95" />
<polygon points="156.5,421.65 161.5,421.65 159,417.15" fill="#99aec0"/>
<line x1="169" y1="364.2" x2="169" y2="374" stroke="#aebfcd" stroke-width="0.9" />
<line x1="165.1" y1="364.2" x2="172.9" y2="364.2" stroke="#aebfcd" stroke-width="0.95" />
<line x1="165.1" y1="374" x2="172.9" y2="374" stroke="#aebfcd" stroke-width="0.95" />
<circle cx="169" cy="369.1" r="2.3" fill="#99aec0"/>
<line x1="169" y1="415.3" x2="169" y2="425.3" stroke="#aebfcd" stroke-width="0.9" />
<line x1="165.1" y1="415.3" x2="172.9" y2="415.3" stroke="#aebfcd" stroke-width="0.95" />
<line x1="165.1" y1="425.3" x2="172.9" y2="425.3" stroke="#aebfcd" stroke-width="0.95" />
<polygon points="166.5,422.55 171.5,422.55 169,418.05" fill="#99aec0"/>
<line x1="181.7" y1="359.6" x2="181.7" y2="369.1" stroke="#aebfcd" stroke-width="0.9" />
<line x1="177.8" y1="359.6" x2="185.6" y2="359.6" stroke="#aebfcd" stroke-width="0.95" />
<line x1="177.8" y1="369.1" x2="185.6" y2="369.1" stroke="#aebfcd" stroke-width="0.95" />
<circle cx="181.7" cy="364.35" r="2.3" fill="#99aec0"/>
<line x1="181.7" y1="414.9" x2="181.7" y2="424.8" stroke="#aebfcd" stroke-width="0.9" />
<line x1="177.8" y1="414.9" x2="185.6" y2="414.9" stroke="#aebfcd" stroke-width="0.95" />
<line x1="177.8" y1="424.8" x2="185.6" y2="424.8" stroke="#aebfcd" stroke-width="0.95" />
<polygon points="179.2,422.1 184.2,422.1 181.7,417.6" fill="#99aec0"/>
<line x1="197.7" y1="359.9" x2="197.7" y2="370.3" stroke="#aebfcd" stroke-width="0.9" />
<line x1="193.8" y1="359.9" x2="201.6" y2="359.9" stroke="#aebfcd" stroke-width="0.95" />
<line x1="193.8" y1="370.3" x2="201.6" y2="370.3" stroke="#aebfcd" stroke-width="0.95" />
<circle cx="197.7" cy="365.1" r="2.3" fill="#99aec0"/>
<line x1="197.7" y1="418.9" x2="197.7" y2="429.4" stroke="#aebfcd" stroke-width="0.9" />
<line x1="193.8" y1="418.9" x2="201.6" y2="418.9" stroke="#aebfcd" stroke-width="0.95" />
<line x1="193.8" y1="429.4" x2="201.6" y2="429.4" stroke="#aebfcd" stroke-width="0.95" />
<polygon points="195.2,426.4 200.2,426.4 197.7,421.9" fill="#99aec0"/>
<line x1="208" y1="359.9" x2="208" y2="371" stroke="#aebfcd" stroke-width="0.9" />
<line x1="204.1" y1="359.9" x2="211.9" y2="359.9" stroke="#aebfcd" stroke-width="0.95" />
<line x1="204.1" y1="371" x2="211.9" y2="371" stroke="#aebfcd" stroke-width="0.95" />
<circle cx="208" cy="365.45" r="2.3" fill="#99aec0"/>
<line x1="208" y1="417.3" x2="208" y2="428.4" stroke="#aebfcd" stroke-width="0.9" />
<line x1="204.1" y1="417.3" x2="211.9" y2="417.3" stroke="#aebfcd" stroke-width="0.95" />
<line x1="204.1" y1="428.4" x2="211.9" y2="428.4" stroke="#aebfcd" stroke-width="0.95" />
<polygon points="205.5,425.1 210.5,425.1 208,420.6" fill="#99aec0"/>
<line x1="220.4" y1="357.6" x2="220.4" y2="369.1" stroke="#aebfcd" stroke-width="0.9" />
<line x1="216.5" y1="357.6" x2="224.3" y2="357.6" stroke="#aebfcd" stroke-width="0.95" />
<line x1="216.5" y1="369.1" x2="224.3" y2="369.1" stroke="#aebfcd" stroke-width="0.95" />
<circle cx="220.4" cy="363.35" r="2.3" fill="#99aec0"/>
<line x1="220.4" y1="421.5" x2="220.4" y2="433" stroke="#aebfcd" stroke-width="0.9" />
<line x1="216.5" y1="421.5" x2="224.3" y2="421.5" stroke="#aebfcd" stroke-width="0.95" />
<line x1="216.5" y1="433" x2="224.3" y2="433" stroke="#aebfcd" stroke-width="0.95" />
<polygon points="217.9,429.5 222.9,429.5 220.4,425" fill="#99aec0"/>
<line x1="236.4" y1="352.3" x2="236.4" y2="364.2" stroke="#aebfcd" stroke-width="0.9" />
<line x1="232.5" y1="352.3" x2="240.3" y2="352.3" stroke="#aebfcd" stroke-width="0.95" />
<line x1="232.5" y1="364.2" x2="240.3" y2="364.2" stroke="#aebfcd" stroke-width="0.95" />
<circle cx="236.4" cy="358.25" r="2.3" fill="#99aec0"/>
<line x1="236.4" y1="423.5" x2="236.4" y2="436.5" stroke="#aebfcd" stroke-width="0.9" />
<line x1="232.5" y1="423.5" x2="240.3" y2="423.5" stroke="#aebfcd" stroke-width="0.95" />
<line x1="232.5" y1="436.5" x2="240.3" y2="436.5" stroke="#aebfcd" stroke-width="0.95" />
<polygon points="233.9,432.25 238.9,432.25 236.4,427.75" fill="#99aec0"/>
<line x1="246.7" y1="352.6" x2="246.7" y2="366" stroke="#aebfcd" stroke-width="0.9" />
<line x1="242.8" y1="352.6" x2="250.6" y2="352.6" stroke="#aebfcd" stroke-width="0.95" />
<line x1="242.8" y1="366" x2="250.6" y2="366" stroke="#aebfcd" stroke-width="0.95" />
<circle cx="246.7" cy="359.3" r="2.3" fill="#99aec0"/>
<line x1="246.7" y1="422.5" x2="246.7" y2="435.6" stroke="#aebfcd" stroke-width="0.9" />
<line x1="242.8" y1="422.5" x2="250.6" y2="422.5" stroke="#aebfcd" stroke-width="0.95" />
<line x1="242.8" y1="435.6" x2="250.6" y2="435.6" stroke="#aebfcd" stroke-width="0.95" />
<polygon points="244.2,431.3 249.2,431.3 246.7,426.8" fill="#99aec0"/>
<circle cx="81.6" cy="372.5" r="2.1" fill="#f29a62"/>
<circle cx="81.6" cy="373.4" r="1.9" fill="none" stroke="#1f3f66" stroke-width="1.1"/>
<polygon points="79.7,421.81 83.5,421.81 81.6,418.39" fill="#f29a62"/>
<polygon points="79.6,421.9 83.6,421.9 81.6,418.3" fill="none" stroke="#1f3f66" stroke-width="0.95" stroke-linejoin="round"/>
<circle cx="91.7" cy="372.3" r="2.1" fill="#f29a62"/>
<circle cx="91.7" cy="372.3" r="1.9" fill="none" stroke="#1f3f66" stroke-width="1.1"/>
<polygon points="89.8,421.81 93.6,421.81 91.7,418.39" fill="#f29a62"/>
<polygon points="89.7,421.9 93.7,421.9 91.7,418.3" fill="none" stroke="#1f3f66" stroke-width="0.95" stroke-linejoin="round"/>
<circle cx="103.9" cy="371.2" r="2.1" fill="#f29a62"/>
<circle cx="103.9" cy="371.2" r="1.9" fill="none" stroke="#1f3f66" stroke-width="1.1"/>
<polygon points="102,421.81 105.8,421.81 103.9,418.39" fill="#f29a62"/>
<polygon points="101.9,421.9 105.9,421.9 103.9,418.3" fill="none" stroke="#1f3f66" stroke-width="0.95" stroke-linejoin="round"/>
<circle cx="120.2" cy="369.6" r="2.1" fill="#f29a62"/>
<circle cx="120.2" cy="369.6" r="1.9" fill="none" stroke="#1f3f66" stroke-width="1.1"/>
<polygon points="118.3,422.01 122.1,422.01 120.2,418.59" fill="#f29a62"/>
<polygon points="118.2,422.1 122.2,422.1 120.2,418.5" fill="none" stroke="#1f3f66" stroke-width="0.95" stroke-linejoin="round"/>
<circle cx="130.4" cy="368.7" r="2.1" fill="#f29a62"/>
<circle cx="130.4" cy="368.7" r="1.9" fill="none" stroke="#1f3f66" stroke-width="1.1"/>
<polygon points="128.5,421.81 132.3,421.81 130.4,418.39" fill="#f29a62"/>
<polygon points="128.4,421.9 132.4,421.9 130.4,418.3" fill="none" stroke="#1f3f66" stroke-width="0.95" stroke-linejoin="round"/>
<circle cx="142.9" cy="367.9" r="2.1" fill="#f29a62"/>
<circle cx="142.9" cy="367.9" r="1.9" fill="none" stroke="#1f3f66" stroke-width="1.1"/>
<polygon points="141,422.61 144.8,422.61 142.9,419.19" fill="#f29a62"/>
<polygon points="140.9,422.7 144.9,422.7 142.9,419.1" fill="none" stroke="#1f3f66" stroke-width="0.95" stroke-linejoin="round"/>
<circle cx="159" cy="366.8" r="2.1" fill="#f29a62"/>
<circle cx="159" cy="366.8" r="1.9" fill="none" stroke="#1f3f66" stroke-width="1.1"/>
<polygon points="157.1,422.41 160.9,422.41 159,418.99" fill="#f29a62"/>
<polygon points="157,422.5 161,422.5 159,418.9" fill="none" stroke="#1f3f66" stroke-width="0.95" stroke-linejoin="round"/>
<circle cx="169" cy="365.8" r="2.1" fill="#f29a62"/>
<circle cx="169" cy="365.8" r="1.9" fill="none" stroke="#1f3f66" stroke-width="1.1"/>
<polygon points="167.1,422.91 170.9,422.91 169,419.49" fill="#f29a62"/>
<polygon points="167,423 171,423 169,419.4" fill="none" stroke="#1f3f66" stroke-width="0.95" stroke-linejoin="round"/>
<circle cx="181.7" cy="364.5" r="2.1" fill="#f29a62"/>
<circle cx="181.7" cy="364.5" r="1.9" fill="none" stroke="#1f3f66" stroke-width="1.1"/>
<polygon points="179.8,423.61 183.6,423.61 181.7,420.19" fill="#f29a62"/>
<polygon points="179.7,423.7 183.7,423.7 181.7,420.1" fill="none" stroke="#1f3f66" stroke-width="0.95" stroke-linejoin="round"/>
<circle cx="197.7" cy="363.8" r="2.1" fill="#f29a62"/>
<circle cx="197.7" cy="363.8" r="1.9" fill="none" stroke="#1f3f66" stroke-width="1.1"/>
<polygon points="195.8,424.71 199.6,424.71 197.7,421.29" fill="#f29a62"/>
<polygon points="195.7,424.8 199.7,424.8 197.7,421.2" fill="none" stroke="#1f3f66" stroke-width="0.95" stroke-linejoin="round"/>
<circle cx="208" cy="363" r="2.1" fill="#f29a62"/>
<circle cx="208" cy="363" r="1.9" fill="none" stroke="#1f3f66" stroke-width="1.1"/>
<polygon points="206.1,425.91 209.9,425.91 208,422.49" fill="#f29a62"/>
<polygon points="206,426 210,426 208,422.4" fill="none" stroke="#1f3f66" stroke-width="0.95" stroke-linejoin="round"/>
<circle cx="220.4" cy="361.8" r="2.1" fill="#f29a62"/>
<circle cx="220.4" cy="361.8" r="1.9" fill="none" stroke="#1f3f66" stroke-width="1.1"/>
<polygon points="218.5,428.11 222.3,428.11 220.4,424.69" fill="#f29a62"/>
<polygon points="218.4,428.2 222.4,428.2 220.4,424.6" fill="none" stroke="#1f3f66" stroke-width="0.95" stroke-linejoin="round"/>
<circle cx="236.4" cy="359.6" r="2.1" fill="#f29a62"/>
<circle cx="236.4" cy="359.6" r="1.9" fill="none" stroke="#1f3f66" stroke-width="1.1"/>
<polygon points="234.5,430.81 238.3,430.81 236.4,427.39" fill="#f29a62"/>
<polygon points="234.4,430.9 238.4,430.9 236.4,427.3" fill="none" stroke="#1f3f66" stroke-width="0.95" stroke-linejoin="round"/>
<circle cx="246.7" cy="356.6" r="2.1" fill="#f29a62"/>
<circle cx="246.7" cy="358.1" r="1.9" fill="none" stroke="#1f3f66" stroke-width="1.1"/>
<polygon points="244.8,432.41 248.6,432.41 246.7,428.99" fill="#f29a62"/>
<polygon points="244.7,432.5 248.7,432.5 246.7,428.9" fill="none" stroke="#1f3f66" stroke-width="0.95" stroke-linejoin="round"/>
<text x="57" y="346.1" font-size="11.4" letter-spacing="0.68" fill="#2b2b2b"><tspan font-style="italic">RMS</tspan>= 1.026</text>
<text x="57" y="358" font-size="11.4" letter-spacing="0.68" fill="#2b2b2b"><tspan font-style="italic">RMS</tspan><tspan font-size="7" letter-spacing="0" dy="2.6" fill="#555">max</tspan><tspan dy="-2.6">= 1.211</tspan></text>
<rect x="49.3" y="332.4" width="206.55" height="123.5" fill="none" stroke="#1d1212" stroke-width="1.9"/>
<text transform="translate(9.4,391.5) rotate(-90)" text-anchor="middle" font-size="11.4" letter-spacing="0.82" fill="#2b2b2b"><tspan font-style="italic">C</tspan>-responses(km)</text>
<rect x="298.6" y="332.4" width="176.1" height="30.35" fill="#f2f2f2" />
<rect x="314.9" y="362.75" width="159.8" height="21.05" fill="#f2f2f2" />
<rect x="344.9" y="383.8" width="129.8" height="26.45" fill="#f2f2f2" />
<rect x="374.5" y="410.25" width="100.2" height="45.65" fill="#f2f2f2" />
<rect x="334.2" y="332.4" width="14.3" height="30.35" fill="#f6cdb3" />
<rect x="343.9" y="362.75" width="23.7" height="21.05" fill="#f6cdb3" />
<rect x="405.3" y="383.8" width="5" height="26.45" fill="#f6cdb3" />
<rect x="442.2" y="410.25" width="1" height="45.65" fill="#f6cdb3" />
<line x1="268.3" y1="362.75" x2="474.7" y2="362.75" stroke="#c2c2c2" stroke-width="0.9" stroke-dasharray="1.8 1.4"/>
<line x1="268.3" y1="383.8" x2="474.7" y2="383.8" stroke="#c2c2c2" stroke-width="0.9" stroke-dasharray="1.8 1.4"/>
<line x1="268.3" y1="410.25" x2="474.7" y2="410.25" stroke="#c2c2c2" stroke-width="0.9" stroke-dasharray="1.8 1.4"/>
<path d="M339.7,332.4 L339.7,362.75 L355.9,362.75 L355.9,383.8 L385.7,383.8 L385.7,410.25 L415.5,410.25 L415.5,455.82" fill="none" stroke="#858585" stroke-width="1.15" stroke-dasharray="2.5 1.8"/>
<path d="M341.2,332.4 L341.2,362.75 L356.2,362.75 L356.2,383.8 L408.7,383.8 L408.7,410.25 L442.7,410.25 L442.7,455.82" fill="none" stroke="#ee8048" stroke-width="1.1"/>
<path d="M339.7,332.4 L339.7,362.75 L355.9,362.75 L355.9,383.8 L410.8,383.8 L410.8,410.25 L443.7,410.25 L443.7,455.82" fill="none" stroke="#1c4a7a" stroke-width="1.5" stroke-dasharray="2.3 1.2"/>
<text x="271.5" y="359.5" text-anchor="start" font-size="11.7" letter-spacing="0.68" fill="#2b2b2b" >UM</text>
<text x="271.5" y="374.3" text-anchor="start" font-size="11.7" letter-spacing="0.68" fill="#2b2b2b" >UMTZ</text>
<text x="271.7" y="407.2" text-anchor="start" font-size="11.7" letter-spacing="0.68" fill="#2b2b2b" >LMTZ</text>
<text x="271.5" y="421.5" text-anchor="start" font-size="11.7" letter-spacing="0.68" fill="#2b2b2b" >ULM</text>
<text x="438.6" y="344.9" text-anchor="end" font-size="11.6" letter-spacing="0.62" fill="#2b2b2b" >Theoretical</text>
<text x="438.6" y="358.1" text-anchor="end" font-size="11.6" letter-spacing="0.62" fill="#2b2b2b" >Inversion</text>
<text x="438.6" y="371.3" text-anchor="end" font-size="11.8" letter-spacing="0.62" fill="#2b2b2b" >GM</text>
<line x1="443" y1="340.6" x2="467.8" y2="340.6" stroke="#1c4a7a" stroke-width="1.4" stroke-dasharray="2.3 1.2"/>
<rect x="443" y="349.6" width="24.8" height="8.5" fill="#f6cdb3" />
<line x1="443" y1="353.8" x2="467.8" y2="353.8" stroke="#ee8048" stroke-width="1.1" />
<line x1="443" y1="367" x2="467.8" y2="367" stroke="#858585" stroke-width="1.1" stroke-dasharray="2.5 1.8"/>
<line x1="268.43" y1="455.9" x2="268.43" y2="460.9" stroke="#3a3a3a" stroke-width="1" />
<line x1="283.11" y1="455.9" x2="283.11" y2="460.9" stroke="#3a3a3a" stroke-width="1" />
<line x1="297.8" y1="455.9" x2="297.8" y2="460.9" stroke="#3a3a3a" stroke-width="1" />
<line x1="312.49" y1="455.9" x2="312.49" y2="460.9" stroke="#3a3a3a" stroke-width="1" />
<line x1="327.18" y1="455.9" x2="327.18" y2="460.9" stroke="#3a3a3a" stroke-width="1" />
<line x1="341.86" y1="455.9" x2="341.86" y2="460.9" stroke="#3a3a3a" stroke-width="1" />
<line x1="356.55" y1="455.9" x2="356.55" y2="460.9" stroke="#3a3a3a" stroke-width="1" />
<line x1="371.24" y1="455.9" x2="371.24" y2="460.9" stroke="#3a3a3a" stroke-width="1" />
<line x1="385.93" y1="455.9" x2="385.93" y2="460.9" stroke="#3a3a3a" stroke-width="1" />
<line x1="400.61" y1="455.9" x2="400.61" y2="460.9" stroke="#3a3a3a" stroke-width="1" />
<line x1="415.3" y1="455.9" x2="415.3" y2="460.9" stroke="#3a3a3a" stroke-width="1" />
<line x1="429.99" y1="455.9" x2="429.99" y2="460.9" stroke="#3a3a3a" stroke-width="1" />
<line x1="444.68" y1="455.9" x2="444.68" y2="460.9" stroke="#3a3a3a" stroke-width="1" />
<line x1="459.36" y1="455.9" x2="459.36" y2="460.9" stroke="#3a3a3a" stroke-width="1" />
<line x1="474.05" y1="455.9" x2="474.05" y2="460.9" stroke="#3a3a3a" stroke-width="1" />
<line x1="474.7" y1="341.46" x2="479.7" y2="341.46" stroke="#3a3a3a" stroke-width="1" />
<text x="481.6" y="345.26" text-anchor="start" font-size="11.4" letter-spacing="0.68" fill="#2b2b2b" >300</text>
<line x1="474.7" y1="360.52" x2="479.7" y2="360.52" stroke="#3a3a3a" stroke-width="1" />
<text x="481.6" y="364.32" text-anchor="start" font-size="11.4" letter-spacing="0.68" fill="#2b2b2b" >400</text>
<line x1="474.7" y1="379.58" x2="479.7" y2="379.58" stroke="#3a3a3a" stroke-width="1" />
<text x="481.6" y="383.38" text-anchor="start" font-size="11.4" letter-spacing="0.68" fill="#2b2b2b" >500</text>
<line x1="474.7" y1="398.64" x2="479.7" y2="398.64" stroke="#3a3a3a" stroke-width="1" />
<text x="481.6" y="402.44" text-anchor="start" font-size="11.4" letter-spacing="0.68" fill="#2b2b2b" >700</text>
<line x1="474.7" y1="417.7" x2="479.7" y2="417.7" stroke="#3a3a3a" stroke-width="1" />
<text x="481.6" y="421.5" text-anchor="start" font-size="11.4" letter-spacing="0.68" fill="#2b2b2b" >800</text>
<line x1="474.7" y1="436.76" x2="479.7" y2="436.76" stroke="#3a3a3a" stroke-width="1" />
<text x="481.6" y="440.56" text-anchor="start" font-size="11.4" letter-spacing="0.68" fill="#2b2b2b" >600</text>
<line x1="474.7" y1="455.82" x2="479.7" y2="455.82" stroke="#3a3a3a" stroke-width="1" />
<text x="481.6" y="459.62" text-anchor="start" font-size="11.4" letter-spacing="0.68" fill="#2b2b2b" >900</text>
<rect x="268.3" y="332.4" width="206.4" height="123.5" fill="none" stroke="#1d1212" stroke-width="1.9"/>
<text transform="translate(507.2,393) rotate(90)" text-anchor="middle" font-size="11.4" letter-spacing="0.68" fill="#2b2b2b">Depth (km)</text>
<clipPath id="clip2"><rect x="524.4" y="332.4" width="123" height="123.5"/></clipPath>
<g clip-path="url(#clip2)">
<line x1="524.4" y1="455.9" x2="647.4" y2="332.4" stroke="#e2e2e2" stroke-width="1" />
<path d="M527.38,452.18 C528.51,450.79 532.09,446.57 534.11,443.84 C536.13,441.1 537.7,438.34 539.5,435.76 C541.29,433.18 543.31,430.6 544.88,428.36 C546.45,426.11 547.35,424.21 548.92,422.3 C550.49,420.39 552.06,419.5 554.3,416.92 C556.54,414.34 559.91,409.4 562.38,406.82 C564.84,404.24 565.22,404.48 569.11,401.44 C573,398.4 581.76,391.55 585.71,388.57 C589.67,385.59 590.71,385.24 592.86,383.57 C595,381.9 596.67,380.6 598.57,378.57 C600.48,376.55 602.14,373.57 604.29,371.43 C606.43,369.29 609.05,367.5 611.43,365.71 C613.81,363.93 616.19,362.14 618.57,360.71 C620.95,359.29 623.33,358.69 625.71,357.14 C628.1,355.6 630.95,353.1 632.86,351.43 C634.76,349.76 635.71,348.81 637.14,347.14 C638.57,345.48 640,343.21 641.43,341.43 C642.86,339.64 645,337.26 645.71,336.43" fill="none" stroke="#c8b6aa" stroke-width="1.2" stroke-dasharray="3 4"/>
<path d="M526.04,445.85 C526.93,445.41 529.4,444.17 531.42,443.16 C533.44,442.15 535.91,441.03 538.15,439.8 C540.39,438.56 542.64,437.22 544.88,435.76 C547.12,434.3 549.37,432.62 551.61,431.05 C553.85,429.48 556.1,427.8 558.34,426.34 C560.58,424.88 562.83,423.87 565.07,422.3 C567.31,420.73 569.55,418.94 571.8,416.92 C574.04,414.9 575.26,414.2 578.53,410.19 C581.8,406.18 588.33,397.17 591.43,392.86 C594.53,388.54 595.24,387.14 597.14,384.29 C599.05,381.43 600.95,378.33 602.86,375.71 C604.76,373.1 606.43,370.71 608.57,368.57 C610.71,366.43 613.33,365 615.71,362.86 C618.1,360.71 620.71,357.86 622.86,355.71 C625,353.57 626.67,351.9 628.57,350 C630.48,348.1 632.62,346.07 634.29,344.29 C635.95,342.5 637.14,340.71 638.57,339.29 C640,337.86 641.67,336.67 642.86,335.71 C644.05,334.76 645.24,333.93 645.71,333.57" fill="none" stroke="#3a2c22" stroke-width="1.5" stroke-dasharray="3.3 1.1"/>
<path d="M525.36,449.22 C526.37,448.66 529.29,447.09 531.42,445.85 C533.55,444.62 535.91,443.16 538.15,441.82 C540.39,440.47 542.64,439.24 544.88,437.78 C547.12,436.32 549.37,434.75 551.61,433.07 C553.85,431.39 556.32,429.7 558.34,427.69 C560.36,425.67 561.93,423.09 563.72,420.96 C565.52,418.82 567.09,417.14 569.11,414.9 C571.13,412.66 572.59,411.41 575.84,407.5 C579.08,403.58 585.5,395.3 588.57,391.43 C591.65,387.56 592.38,386.67 594.29,384.29 C596.19,381.9 598.1,379.29 600,377.14 C601.9,375 603.81,373.33 605.71,371.43 C607.62,369.52 609.52,367.62 611.43,365.71 C613.33,363.81 615.24,361.9 617.14,360 C619.05,358.1 620.95,356.19 622.86,354.29 C624.76,352.38 626.67,350.48 628.57,348.57 C630.48,346.67 632.38,344.64 634.29,342.86 C636.19,341.07 638.21,339.4 640,337.86 C641.79,336.31 644.17,334.29 645,333.57" fill="none" stroke="#17998a" stroke-width="1.6" stroke-dasharray="1.3 1.35"/>
<path d="M526.04,453.26 C526.93,452.14 529.63,448.77 531.42,446.53 C533.22,444.28 535.01,442.04 536.8,439.8 C538.6,437.55 540.39,435.54 542.19,433.07 C543.98,430.6 545.78,427.35 547.57,424.99 C549.37,422.64 550.94,420.96 552.96,418.94 C554.97,416.92 557.44,415.01 559.69,412.88 C561.93,410.75 564.17,408.06 566.41,406.15 C568.66,404.24 569.69,404.13 573.14,401.44 C576.6,398.75 583.62,392.74 587.14,390 C590.67,387.26 591.9,386.55 594.29,385 C596.67,383.45 599.05,382.26 601.43,380.71 C603.81,379.17 606.19,377.26 608.57,375.71 C610.95,374.17 613.33,373.1 615.71,371.43 C618.1,369.76 620.71,367.62 622.86,365.71 C625,363.81 626.9,361.9 628.57,360 C630.24,358.1 631.67,356.19 632.86,354.29 C634.05,352.38 634.76,350.48 635.71,348.57 C636.67,346.67 637.38,344.76 638.57,342.86 C639.76,340.95 641.67,338.69 642.86,337.14 C644.05,335.6 645.24,334.17 645.71,333.57" fill="none" stroke="#f39a2c" stroke-width="1.5" stroke-dasharray="6.5 2 1.5 2"/>
</g>
<line x1="531.8" y1="344.1" x2="548.8" y2="344.1" stroke="#17998a" stroke-width="1.6" stroke-dasharray="1.3 1.35"/>
<text x="554.6" y="348" text-anchor="start" font-size="11.4" letter-spacing="0.68" fill="#2b2b2b" >UM</text>
<line x1="531.8" y1="357" x2="548.8" y2="357" stroke="#3a2c22" stroke-width="1.5" stroke-dasharray="3.3 1.1"/>
<text x="554.6" y="360.9" text-anchor="start" font-size="11.4" letter-spacing="0.68" fill="#2b2b2b" >UMTZ</text>
<line x1="531.8" y1="369.8" x2="548.8" y2="369.8" stroke="#c8b6aa" stroke-width="1.2" stroke-dasharray="3 4"/>
<text x="554.6" y="373.7" text-anchor="start" font-size="11.4" letter-spacing="0.68" fill="#2b2b2b" >LMTZ</text>
<line x1="531.8" y1="382.6" x2="548.8" y2="382.6" stroke="#f39a2c" stroke-width="1.5" stroke-dasharray="6.5 2 1.5 2"/>
<text x="554.6" y="386.5" text-anchor="start" font-size="11.4" letter-spacing="0.68" fill="#2b2b2b" >ULM</text>
<line x1="524.4" y1="455.9" x2="524.4" y2="460.9" stroke="#3a3a3a" stroke-width="1" />
<line x1="536.7" y1="455.9" x2="536.7" y2="458.9" stroke="#3a3a3a" stroke-width="1" />
<line x1="549" y1="455.9" x2="549" y2="458.9" stroke="#3a3a3a" stroke-width="1" />
<line x1="561.3" y1="455.9" x2="561.3" y2="458.9" stroke="#3a3a3a" stroke-width="1" />
<line x1="573.6" y1="455.9" x2="573.6" y2="458.9" stroke="#3a3a3a" stroke-width="1" />
<line x1="585.9" y1="455.9" x2="585.9" y2="460.9" stroke="#3a3a3a" stroke-width="1" />
<line x1="598.2" y1="455.9" x2="598.2" y2="458.9" stroke="#3a3a3a" stroke-width="1" />
<line x1="610.5" y1="455.9" x2="610.5" y2="458.9" stroke="#3a3a3a" stroke-width="1" />
<line x1="622.8" y1="455.9" x2="622.8" y2="458.9" stroke="#3a3a3a" stroke-width="1" />
<line x1="635.1" y1="455.9" x2="635.1" y2="458.9" stroke="#3a3a3a" stroke-width="1" />
<line x1="647.4" y1="455.9" x2="647.4" y2="460.9" stroke="#3a3a3a" stroke-width="1" />
<line x1="647.4" y1="455.9" x2="652.4" y2="455.9" stroke="#3a3a3a" stroke-width="1" />
<line x1="647.4" y1="443.55" x2="649.9" y2="443.55" stroke="#3a3a3a" stroke-width="1" />
<line x1="647.4" y1="431.2" x2="649.9" y2="431.2" stroke="#3a3a3a" stroke-width="1" />
<line x1="647.4" y1="418.85" x2="649.9" y2="418.85" stroke="#3a3a3a" stroke-width="1" />
<line x1="647.4" y1="406.5" x2="649.9" y2="406.5" stroke="#3a3a3a" stroke-width="1" />
<line x1="647.4" y1="394.15" x2="652.4" y2="394.15" stroke="#3a3a3a" stroke-width="1" />
<line x1="647.4" y1="381.8" x2="649.9" y2="381.8" stroke="#3a3a3a" stroke-width="1" />
<line x1="647.4" y1="369.45" x2="649.9" y2="369.45" stroke="#3a3a3a" stroke-width="1" />
<line x1="647.4" y1="357.1" x2="649.9" y2="357.1" stroke="#3a3a3a" stroke-width="1" />
<line x1="647.4" y1="344.75" x2="649.9" y2="344.75" stroke="#3a3a3a" stroke-width="1" />
<line x1="647.4" y1="332.4" x2="652.4" y2="332.4" stroke="#3a3a3a" stroke-width="1" />
<text x="654.6" y="336.2" text-anchor="start" font-size="11.4" letter-spacing="0.68" fill="#2b2b2b" >1.0</text>
<text x="654.6" y="397.95" text-anchor="start" font-size="11.4" letter-spacing="0.68" fill="#2b2b2b" >0.5</text>
<text x="654.6" y="459.7" text-anchor="start" font-size="11.4" letter-spacing="0.68" fill="#2b2b2b" >0.0</text>
<text x="524.8" y="471.6" text-anchor="middle" font-size="11.4" letter-spacing="0.68" fill="#2b2b2b" >0.0</text>
<text x="586.3" y="471.6" text-anchor="middle" font-size="11.4" letter-spacing="0.68" fill="#2b2b2b" >0.5</text>
<text x="647.8" y="471.6" text-anchor="middle" font-size="11.4" letter-spacing="0.68" fill="#2b2b2b" >1.0</text>
<rect x="524.4" y="332.4" width="123" height="123.5" fill="none" stroke="#1d1212" stroke-width="1.9"/>
<text transform="translate(675.2,395.9) rotate(90)" text-anchor="middle" font-size="11.4" letter-spacing="0.55" fill="#2b2b2b">Theoretical CP</text>
<text x="29.6" y="38.2" text-anchor="start" font-size="11.4" letter-spacing="0.68" fill="#2b2b2b" >(a)</text>
<text x="248.6" y="37.8" text-anchor="start" font-size="11.4" letter-spacing="0.68" fill="#2b2b2b" >(b)</text>
<text x="515.6" y="37.2" text-anchor="end" font-size="11.4" letter-spacing="0.68" fill="#2b2b2b" >(c)</text>
<text x="29.6" y="184.4" text-anchor="start" font-size="11.4" letter-spacing="0.68" fill="#2b2b2b" >(d)</text>
<text x="248.6" y="184" text-anchor="start" font-size="11.4" letter-spacing="0.68" fill="#2b2b2b" >(e)</text>
<text x="515.6" y="183.8" text-anchor="end" font-size="11.4" letter-spacing="0.68" fill="#2b2b2b" >(f)</text>
<text x="29.6" y="329.7" text-anchor="start" font-size="11.4" letter-spacing="0.68" fill="#2b2b2b" >(g)</text>
<text x="248.6" y="329.3" text-anchor="start" font-size="11.4" letter-spacing="0.68" fill="#2b2b2b" >(h)</text>
<text x="515.6" y="329.1" text-anchor="end" font-size="11.4" letter-spacing="0.68" fill="#2b2b2b" >(i)</text>
<text x="49.4" y="471.8" text-anchor="middle" font-size="11.4" letter-spacing="0.68" fill="#2b2b2b" >1</text>
<text x="178.5" y="471.8" text-anchor="middle" font-size="11.4" letter-spacing="0.68" fill="#2b2b2b" >10</text>
<text x="138.8" y="485.7" text-anchor="middle" font-size="11.4" letter-spacing="0.8" fill="#2b2b2b" >Period(days)</text>
<text x="266.23" y="471.8" text-anchor="middle" font-size="11.4" letter-spacing="0.68" fill="#2b2b2b" >-2.5</text>
<text x="295.6" y="471.8" text-anchor="middle" font-size="11.4" letter-spacing="0.68" fill="#2b2b2b" >-2.0</text>
<text x="324.98" y="471.8" text-anchor="middle" font-size="11.4" letter-spacing="0.68" fill="#2b2b2b" >-1.5</text>
<text x="354.35" y="471.8" text-anchor="middle" font-size="11.4" letter-spacing="0.68" fill="#2b2b2b" >-1.0</text>
<text x="383.73" y="471.8" text-anchor="middle" font-size="11.4" letter-spacing="0.68" fill="#2b2b2b" >-0.5</text>
<text x="415.7" y="471.8" text-anchor="middle" font-size="11.4" letter-spacing="0.68" fill="#2b2b2b" >0.0</text>
<text x="445.07" y="471.8" text-anchor="middle" font-size="11.4" letter-spacing="0.68" fill="#2b2b2b" >0.5</text>
<text x="474.45" y="471.8" text-anchor="middle" font-size="11.4" letter-spacing="0.68" fill="#2b2b2b" >1.0</text>
<text x="360.6" y="485.7" text-anchor="middle" font-size="11.4" letter-spacing="0.75" fill="#2b2b2b">log<tspan font-size="6.5" letter-spacing="0" dy="2.2">10</tspan><tspan dy="-2.2">[(σ)(S/m)]</tspan></text>
<text x="585.9" y="485.7" text-anchor="middle" font-size="11.4" letter-spacing="0.68" fill="#2b2b2b" >Sample CP</text>
<line x1="51.85" y1="3.1" x2="51.85" y2="8.3" stroke="#aebfcd" stroke-width="0.9" />
<line x1="48.05" y1="3.1" x2="55.65" y2="3.1" stroke="#aebfcd" stroke-width="0.95" />
<line x1="48.05" y1="8.3" x2="55.65" y2="8.3" stroke="#aebfcd" stroke-width="0.95" />
<polygon points="49.75,7.89 53.95,7.89 51.85,4.11" fill="#99aec0"/>
<line x1="62.9" y1="3.1" x2="62.9" y2="8.3" stroke="#aebfcd" stroke-width="0.9" />
<line x1="59.1" y1="3.1" x2="66.7" y2="3.1" stroke="#aebfcd" stroke-width="0.95" />
<line x1="59.1" y1="8.3" x2="66.7" y2="8.3" stroke="#aebfcd" stroke-width="0.95" />
<circle cx="62.9" cy="5.7" r="2.3" fill="#99aec0"/>
<polygon points="50,20.01 53.8,20.01 51.9,16.59" fill="none" stroke="#1f3f66" stroke-width="0.95" stroke-linejoin="round"/>
<circle cx="62.8" cy="18.2" r="1.7" fill="none" stroke="#1f3f66" stroke-width="0.95"/>
<polygon points="49.7,32.88 54.1,32.88 51.9,28.92" fill="#f29a62"/>
<circle cx="62.8" cy="30.6" r="2.1" fill="#f29a62"/>
<text x="74.2" y="9.3" font-size="11.4" letter-spacing="0.58" fill="#2b2b2b"><tspan font-style="italic">C</tspan>-response (5% noise)</text>
<text x="74.2" y="21.7" font-size="11.4" letter-spacing="0.67" fill="#2b2b2b">Theoretical <tspan font-style="italic">C</tspan>-response</text>
<text x="74.2" y="34.4" font-size="11.4" letter-spacing="0.64" fill="#2b2b2b">Invesion <tspan font-style="italic">C</tspan>-response</text>
</svg>
</body></html>
